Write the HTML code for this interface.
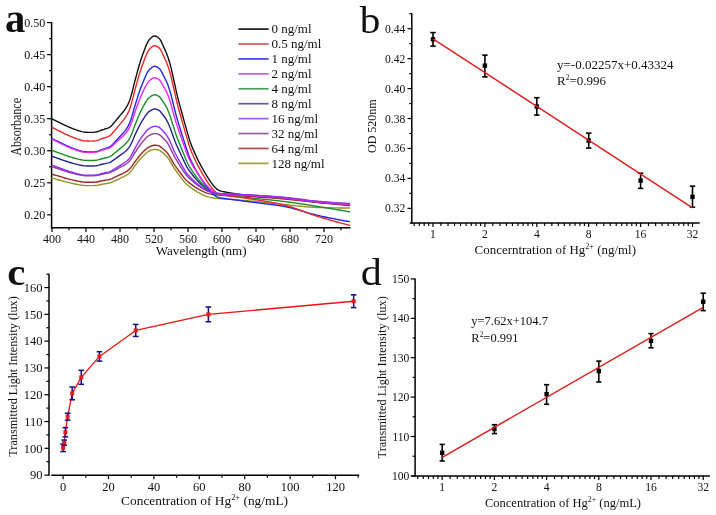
<!DOCTYPE html>
<html><head><meta charset="utf-8"><style>
html,body{margin:0;padding:0;background:#fff;}
svg{display:block;will-change:transform;filter:blur(0.35px);}
text{font-family:"Liberation Serif", serif;fill:#111;}
</style></head><body>
<svg width="716" height="515" viewBox="0 0 716 515">
<rect width="716" height="515" fill="#fff"/>
<line x1="51.60" y1="22.20" x2="51.60" y2="228.55" stroke="#000" stroke-width="1.5"/>
<line x1="50.85" y1="227.80" x2="350.50" y2="227.80" stroke="#000" stroke-width="1.5"/>
<line x1="47.10" y1="214.84" x2="51.60" y2="214.84" stroke="#000" stroke-width="1.2"/>
<text x="45.20" y="218.94" font-size="12" text-anchor="end" >0.20</text>
<line x1="47.10" y1="182.80" x2="51.60" y2="182.80" stroke="#000" stroke-width="1.2"/>
<text x="45.20" y="186.90" font-size="12" text-anchor="end" >0.25</text>
<line x1="47.10" y1="150.76" x2="51.60" y2="150.76" stroke="#000" stroke-width="1.2"/>
<text x="45.20" y="154.86" font-size="12" text-anchor="end" >0.30</text>
<line x1="47.10" y1="118.72" x2="51.60" y2="118.72" stroke="#000" stroke-width="1.2"/>
<text x="45.20" y="122.82" font-size="12" text-anchor="end" >0.35</text>
<line x1="47.10" y1="86.68" x2="51.60" y2="86.68" stroke="#000" stroke-width="1.2"/>
<text x="45.20" y="90.78" font-size="12" text-anchor="end" >0.40</text>
<line x1="47.10" y1="54.64" x2="51.60" y2="54.64" stroke="#000" stroke-width="1.2"/>
<text x="45.20" y="58.74" font-size="12" text-anchor="end" >0.45</text>
<line x1="47.10" y1="22.60" x2="51.60" y2="22.60" stroke="#000" stroke-width="1.2"/>
<text x="45.20" y="26.70" font-size="12" text-anchor="end" >0.50</text>
<line x1="49.10" y1="198.82" x2="51.60" y2="198.82" stroke="#000" stroke-width="1.2"/>
<line x1="49.10" y1="166.78" x2="51.60" y2="166.78" stroke="#000" stroke-width="1.2"/>
<line x1="49.10" y1="134.74" x2="51.60" y2="134.74" stroke="#000" stroke-width="1.2"/>
<line x1="49.10" y1="102.70" x2="51.60" y2="102.70" stroke="#000" stroke-width="1.2"/>
<line x1="49.10" y1="70.66" x2="51.60" y2="70.66" stroke="#000" stroke-width="1.2"/>
<line x1="49.10" y1="38.62" x2="51.60" y2="38.62" stroke="#000" stroke-width="1.2"/>
<line x1="52.00" y1="227.80" x2="52.00" y2="232.00" stroke="#000" stroke-width="1.2"/>
<text x="52.00" y="242.70" font-size="12" text-anchor="middle" >400</text>
<line x1="69.00" y1="227.80" x2="69.00" y2="230.30" stroke="#000" stroke-width="1.2"/>
<line x1="86.00" y1="227.80" x2="86.00" y2="232.00" stroke="#000" stroke-width="1.2"/>
<text x="86.00" y="242.70" font-size="12" text-anchor="middle" >440</text>
<line x1="103.00" y1="227.80" x2="103.00" y2="230.30" stroke="#000" stroke-width="1.2"/>
<line x1="120.00" y1="227.80" x2="120.00" y2="232.00" stroke="#000" stroke-width="1.2"/>
<text x="120.00" y="242.70" font-size="12" text-anchor="middle" >480</text>
<line x1="137.00" y1="227.80" x2="137.00" y2="230.30" stroke="#000" stroke-width="1.2"/>
<line x1="154.00" y1="227.80" x2="154.00" y2="232.00" stroke="#000" stroke-width="1.2"/>
<text x="154.00" y="242.70" font-size="12" text-anchor="middle" >520</text>
<line x1="171.00" y1="227.80" x2="171.00" y2="230.30" stroke="#000" stroke-width="1.2"/>
<line x1="188.00" y1="227.80" x2="188.00" y2="232.00" stroke="#000" stroke-width="1.2"/>
<text x="188.00" y="242.70" font-size="12" text-anchor="middle" >560</text>
<line x1="205.00" y1="227.80" x2="205.00" y2="230.30" stroke="#000" stroke-width="1.2"/>
<line x1="222.00" y1="227.80" x2="222.00" y2="232.00" stroke="#000" stroke-width="1.2"/>
<text x="222.00" y="242.70" font-size="12" text-anchor="middle" >600</text>
<line x1="239.00" y1="227.80" x2="239.00" y2="230.30" stroke="#000" stroke-width="1.2"/>
<line x1="256.00" y1="227.80" x2="256.00" y2="232.00" stroke="#000" stroke-width="1.2"/>
<text x="256.00" y="242.70" font-size="12" text-anchor="middle" >640</text>
<line x1="273.00" y1="227.80" x2="273.00" y2="230.30" stroke="#000" stroke-width="1.2"/>
<line x1="290.00" y1="227.80" x2="290.00" y2="232.00" stroke="#000" stroke-width="1.2"/>
<text x="290.00" y="242.70" font-size="12" text-anchor="middle" >680</text>
<line x1="307.00" y1="227.80" x2="307.00" y2="230.30" stroke="#000" stroke-width="1.2"/>
<line x1="324.00" y1="227.80" x2="324.00" y2="232.00" stroke="#000" stroke-width="1.2"/>
<text x="324.00" y="242.70" font-size="12" text-anchor="middle" >720</text>
<line x1="341.00" y1="227.80" x2="341.00" y2="230.30" stroke="#000" stroke-width="1.2"/>
<text x="201.20" y="255.00" font-size="13.1" text-anchor="middle" >Wavelength (nm)</text>
<text transform="translate(20.8,126.8) rotate(-90) scale(1,1.12)" font-size="12.1" text-anchor="middle">Absorbance</text>
<text x="5.00" y="31.60" font-size="39.5" text-anchor="start" font-weight="bold" transform="translate(5 0) scale(1.03 1) translate(-5 0)">a</text>
<line x1="238.40" y1="29.10" x2="268.60" y2="29.10" stroke="#1a1a1a" stroke-width="1.7"/>
<text x="271.50" y="33.30" font-size="13.0" text-anchor="start" >0 ng/ml</text>
<line x1="238.40" y1="44.02" x2="268.60" y2="44.02" stroke="#d45a5a" stroke-width="1.7"/>
<text x="271.50" y="48.22" font-size="13.0" text-anchor="start" >0.5 ng/ml</text>
<line x1="238.40" y1="58.94" x2="268.60" y2="58.94" stroke="#4040dc" stroke-width="1.7"/>
<text x="271.50" y="63.14" font-size="13.0" text-anchor="start" >1 ng/ml</text>
<line x1="238.40" y1="73.86" x2="268.60" y2="73.86" stroke="#cc5ccc" stroke-width="1.7"/>
<text x="271.50" y="78.06" font-size="13.0" text-anchor="start" >2 ng/ml</text>
<line x1="238.40" y1="88.78" x2="268.60" y2="88.78" stroke="#4a9e5a" stroke-width="1.7"/>
<text x="271.50" y="92.98" font-size="13.0" text-anchor="start" >4 ng/ml</text>
<line x1="238.40" y1="103.70" x2="268.60" y2="103.70" stroke="#5c5c96" stroke-width="1.7"/>
<text x="271.50" y="107.90" font-size="13.0" text-anchor="start" >8 ng/ml</text>
<line x1="238.40" y1="118.62" x2="268.60" y2="118.62" stroke="#a458ee" stroke-width="1.7"/>
<text x="271.50" y="122.82" font-size="13.0" text-anchor="start" >16 ng/ml</text>
<line x1="238.40" y1="133.54" x2="268.60" y2="133.54" stroke="#9c5aa2" stroke-width="1.7"/>
<text x="271.50" y="137.74" font-size="13.0" text-anchor="start" >32 ng/ml</text>
<line x1="238.40" y1="148.46" x2="268.60" y2="148.46" stroke="#b04848" stroke-width="1.7"/>
<text x="271.50" y="152.66" font-size="13.0" text-anchor="start" >64 ng/ml</text>
<line x1="238.40" y1="163.38" x2="268.60" y2="163.38" stroke="#a0a040" stroke-width="1.7"/>
<text x="271.50" y="167.58" font-size="13.0" text-anchor="start" >128 ng/ml</text>
<polyline points="52.00,118.90 53.00,119.38 54.00,119.86 55.00,120.34 56.00,120.83 57.00,121.31 58.00,121.80 59.00,122.29 60.00,122.79 61.00,123.30 62.00,123.80 63.00,124.30 64.00,124.79 65.00,125.27 66.00,125.73 67.00,126.18 68.00,126.63 69.00,127.06 70.00,127.49 71.00,127.90 72.00,128.30 73.00,128.69 74.00,129.08 75.00,129.46 76.00,129.83 77.00,130.18 78.00,130.50 79.00,130.80 80.00,131.09 81.00,131.39 82.00,131.67 83.00,131.92 84.00,132.10 85.00,132.20 86.00,132.25 87.00,132.29 88.00,132.33 89.00,132.36 90.00,132.38 91.00,132.40 92.00,132.40 93.00,132.37 94.00,132.28 95.00,132.14 96.00,131.98 97.00,131.80 98.00,131.53 99.00,131.13 100.00,130.70 101.00,130.30 102.00,129.97 103.00,129.65 104.00,129.34 105.00,129.00 106.00,128.68 107.00,128.37 108.00,128.02 109.00,127.61 110.00,127.07 111.00,126.25 112.00,125.19 113.00,124.00 114.00,122.78 115.00,121.63 116.00,120.46 117.00,119.26 118.00,118.03 119.00,116.80 120.00,115.58 121.00,114.41 122.00,113.23 123.00,112.03 124.00,110.74 125.00,109.33 126.00,107.79 127.00,106.12 128.00,104.24 129.00,102.07 130.00,99.39 131.00,96.14 132.00,92.61 133.00,88.66 134.00,84.44 135.00,80.56 136.00,76.82 137.00,73.12 138.00,69.51 139.00,66.01 140.00,62.67 141.00,59.51 142.00,56.58 143.00,53.84 144.00,51.09 145.00,48.40 146.00,45.86 147.00,43.56 148.00,41.59 149.00,40.04 150.00,38.94 151.00,37.93 152.00,37.05 153.00,36.36 154.00,35.96 155.00,35.93 156.00,36.23 157.00,36.77 158.00,37.49 159.00,38.32 160.00,39.38 161.00,41.06 162.00,43.16 163.00,45.45 164.00,47.69 165.00,49.84 166.00,52.09 167.00,54.54 168.00,57.31 169.00,60.46 170.00,63.93 171.00,67.66 172.00,71.81 173.00,76.35 174.00,80.91 175.00,85.48 176.00,90.09 177.00,94.54 178.00,98.62 179.00,102.44 180.00,106.11 181.00,109.71 182.00,113.35 183.00,116.99 184.00,120.59 185.00,124.16 186.00,127.65 187.00,131.15 188.00,134.66 189.00,138.08 190.00,141.25 191.00,144.10 192.00,146.68 193.00,149.09 194.00,151.39 195.00,153.62 196.00,155.79 197.00,157.91 198.00,159.96 199.00,161.96 200.00,163.90 201.00,165.82 202.00,167.69 203.00,169.52 204.00,171.29 205.00,173.01 206.00,174.68 207.00,176.30 208.00,177.88 209.00,179.40 210.00,180.87 211.00,182.30 212.00,183.66 213.00,184.96 214.00,186.18 215.00,187.29 216.00,188.27 217.00,189.12 218.00,189.81 219.00,190.35 220.00,190.78 221.00,191.11 222.00,191.38 223.00,191.60 224.00,191.80 225.00,191.99 226.00,192.17 227.00,192.35 228.00,192.52 229.00,192.70 230.00,192.87 231.00,193.03 232.00,193.20 233.00,193.36 234.00,193.52 235.00,193.68 236.00,193.84 237.00,193.99 238.00,194.14 239.00,194.29 240.00,194.43 241.00,194.57 242.00,194.71 243.00,194.84 244.00,194.98 245.00,195.10 246.00,195.23 247.00,195.35 248.00,195.47 249.00,195.58 250.00,195.69 251.00,195.80 252.00,195.90 253.00,196.00 254.00,196.09 255.00,196.18 256.00,196.27 257.00,196.36 258.00,196.44 259.00,196.52 260.00,196.60 261.00,196.68 262.00,196.75 263.00,196.83 264.00,196.90 265.00,196.97 266.00,197.04 267.00,197.11 268.00,197.18 269.00,197.24 270.00,197.31 271.00,197.38 272.00,197.45 273.00,197.52 274.00,197.59 275.00,197.66 276.00,197.74 277.00,197.81 278.00,197.89 279.00,197.97 280.00,198.05 281.00,198.13 282.00,198.22 283.00,198.31 284.00,198.40 285.00,198.50 286.00,198.60 287.00,198.70 288.00,198.81 289.00,198.92 290.00,199.03 291.00,199.15 292.00,199.26 293.00,199.38 294.00,199.51 295.00,199.63 296.00,199.75 297.00,199.88 298.00,200.01 299.00,200.13 300.00,200.26 301.00,200.39 302.00,200.52 303.00,200.65 304.00,200.77 305.00,200.90 306.00,201.03 307.00,201.15 308.00,201.28 309.00,201.40 310.00,201.52 311.00,201.64 312.00,201.76 313.00,201.87 314.00,201.98 315.00,202.09 316.00,202.20 317.00,202.30 318.00,202.40 319.00,202.50 320.00,202.59 321.00,202.69 322.00,202.78 323.00,202.87 324.00,202.97 325.00,203.06 326.00,203.15 327.00,203.24 328.00,203.33 329.00,203.42 330.00,203.50 331.00,203.59 332.00,203.67 333.00,203.76 334.00,203.84 335.00,203.92 336.00,204.01 337.00,204.09 338.00,204.17 339.00,204.24 340.00,204.32 341.00,204.40 342.00,204.47 343.00,204.55 344.00,204.62 345.00,204.69 346.00,204.76 347.00,204.83 348.00,204.90 349.00,204.97 349.50,205.00" fill="none" stroke="#111111" stroke-width="1.4" stroke-linejoin="round" stroke-linecap="round"/>
<polyline points="52.00,156.30 53.00,156.65 54.00,156.99 55.00,157.34 56.00,157.69 57.00,158.04 58.00,158.39 59.00,158.74 60.00,159.10 61.00,159.47 62.00,159.83 63.00,160.19 64.00,160.54 65.00,160.88 66.00,161.22 67.00,161.54 68.00,161.86 69.00,162.18 70.00,162.48 71.00,162.78 72.00,163.07 73.00,163.35 74.00,163.63 75.00,163.90 76.00,164.17 77.00,164.42 78.00,164.65 79.00,164.87 80.00,165.08 81.00,165.29 82.00,165.50 83.00,165.67 84.00,165.80 85.00,165.88 86.00,165.91 87.00,165.94 88.00,165.97 89.00,165.99 90.00,166.01 91.00,166.02 92.00,166.02 93.00,166.00 94.00,165.93 95.00,165.84 96.00,165.72 97.00,165.59 98.00,165.39 99.00,165.11 100.00,164.79 101.00,164.51 102.00,164.27 103.00,164.04 104.00,163.81 105.00,163.57 106.00,163.35 107.00,163.14 108.00,162.90 109.00,162.63 110.00,162.29 111.00,161.79 112.00,161.15 113.00,160.43 114.00,159.71 115.00,159.02 116.00,158.32 117.00,157.60 118.00,156.86 119.00,156.13 120.00,155.40 121.00,154.70 122.00,154.00 123.00,153.27 124.00,152.51 125.00,151.67 126.00,150.76 127.00,149.78 128.00,148.68 129.00,147.41 130.00,145.86 131.00,143.98 132.00,141.94 133.00,139.68 134.00,137.25 135.00,135.02 136.00,132.86 137.00,130.73 138.00,128.65 139.00,126.63 140.00,124.71 141.00,122.88 142.00,121.18 143.00,119.59 144.00,118.00 145.00,116.44 146.00,114.97 147.00,113.63 148.00,112.47 149.00,111.56 150.00,110.90 151.00,110.29 152.00,109.75 153.00,109.32 154.00,109.06 155.00,108.99 156.00,109.12 157.00,109.41 158.00,109.82 159.00,110.29 160.00,111.10 161.00,112.27 162.00,113.62 163.00,114.96 164.00,116.24 165.00,117.58 166.00,119.08 167.00,120.82 168.00,122.81 169.00,125.01 170.00,127.42 171.00,130.15 172.00,132.95 173.00,135.74 174.00,138.56 175.00,141.24 176.00,143.67 177.00,145.95 178.00,148.15 179.00,150.35 180.00,152.56 181.00,154.76 182.00,156.92 183.00,159.04 184.00,161.16 185.00,163.29 186.00,165.32 187.00,167.16 188.00,168.78 189.00,170.25 190.00,171.62 191.00,172.94 192.00,174.24 193.00,175.49 194.00,176.71 195.00,177.88 196.00,179.02 197.00,180.11 198.00,181.17 199.00,182.19 200.00,183.17 201.00,184.15 202.00,185.09 203.00,186.00 204.00,186.87 205.00,187.71 206.00,188.51 207.00,189.27 208.00,189.99 209.00,190.66 210.00,191.27 211.00,191.80 212.00,192.27 213.00,192.67 214.00,193.01 215.00,193.29 216.00,193.52 217.00,193.70 218.00,193.84 219.00,193.95 220.00,194.03 221.00,194.10 222.00,194.15 223.00,194.19 224.00,194.23 225.00,194.26 226.00,194.30 227.00,194.34 228.00,194.38 229.00,194.42 230.00,194.46 231.00,194.50 232.00,194.55 233.00,194.59 234.00,194.64 235.00,194.68 236.00,194.73 237.00,194.77 238.00,194.82 239.00,194.87 240.00,194.92 241.00,194.97 242.00,195.02 243.00,195.07 244.00,195.12 245.00,195.17 246.00,195.23 247.00,195.28 248.00,195.34 249.00,195.39 250.00,195.45 251.00,195.50 252.00,195.56 253.00,195.62 254.00,195.68 255.00,195.74 256.00,195.80 257.00,195.86 258.00,195.93 259.00,195.99 260.00,196.06 261.00,196.13 262.00,196.20 263.00,196.27 264.00,196.34 265.00,196.41 266.00,196.49 267.00,196.56 268.00,196.64 269.00,196.72 270.00,196.80 271.00,196.88 272.00,196.96 273.00,197.04 274.00,197.12 275.00,197.21 276.00,197.29 277.00,197.38 278.00,197.46 279.00,197.55 280.00,197.64 281.00,197.73 282.00,197.82 283.00,197.91 284.00,198.00 285.00,198.10 286.00,198.20 287.00,198.30 288.00,198.40 289.00,198.51 290.00,198.63 291.00,198.74 292.00,198.86 293.00,198.98 294.00,199.10 295.00,199.22 296.00,199.35 297.00,199.47 298.00,199.60 299.00,199.73 300.00,199.86 301.00,199.99 302.00,200.12 303.00,200.25 304.00,200.38 305.00,200.51 306.00,200.63 307.00,200.76 308.00,200.88 309.00,201.01 310.00,201.13 311.00,201.25 312.00,201.36 313.00,201.48 314.00,201.59 315.00,201.69 316.00,201.80 317.00,201.90 318.00,202.00 319.00,202.09 320.00,202.19 321.00,202.28 322.00,202.37 323.00,202.46 324.00,202.55 325.00,202.64 326.00,202.73 327.00,202.82 328.00,202.90 329.00,202.99 330.00,203.07 331.00,203.16 332.00,203.24 333.00,203.32 334.00,203.40 335.00,203.48 336.00,203.56 337.00,203.64 338.00,203.71 339.00,203.79 340.00,203.86 341.00,203.93 342.00,204.00 343.00,204.07 344.00,204.14 345.00,204.21 346.00,204.28 347.00,204.34 348.00,204.41 349.00,204.47 349.50,204.50" fill="none" stroke="#222288" stroke-width="1.4" stroke-linejoin="round" stroke-linecap="round"/>
<polyline points="52.00,174.20 53.00,174.49 54.00,174.78 55.00,175.07 56.00,175.36 57.00,175.65 58.00,175.94 59.00,176.24 60.00,176.54 61.00,176.84 62.00,177.14 63.00,177.44 64.00,177.73 65.00,178.02 66.00,178.30 67.00,178.57 68.00,178.84 69.00,179.10 70.00,179.35 71.00,179.60 72.00,179.84 73.00,180.07 74.00,180.31 75.00,180.54 76.00,180.76 77.00,180.97 78.00,181.16 79.00,181.34 80.00,181.51 81.00,181.69 82.00,181.86 83.00,182.01 84.00,182.12 85.00,182.18 86.00,182.21 87.00,182.24 88.00,182.26 89.00,182.28 90.00,182.29 91.00,182.30 92.00,182.30 93.00,182.28 94.00,182.23 95.00,182.15 96.00,182.05 97.00,181.94 98.00,181.78 99.00,181.54 100.00,181.28 101.00,181.04 102.00,180.84 103.00,180.65 104.00,180.46 105.00,180.26 106.00,180.09 107.00,179.92 108.00,179.75 109.00,179.55 110.00,179.30 111.00,178.96 112.00,178.54 113.00,178.07 114.00,177.59 115.00,177.13 116.00,176.67 117.00,176.19 118.00,175.71 119.00,175.23 120.00,174.75 121.00,174.29 122.00,173.82 123.00,173.35 124.00,172.84 125.00,172.30 126.00,171.71 127.00,171.07 128.00,170.36 129.00,169.56 130.00,168.57 131.00,167.39 132.00,166.11 133.00,164.69 134.00,163.17 135.00,161.77 136.00,160.42 137.00,159.09 138.00,157.78 139.00,156.51 140.00,155.30 141.00,154.15 142.00,153.08 143.00,152.07 144.00,151.07 145.00,150.08 146.00,149.14 147.00,148.29 148.00,147.55 149.00,146.96 150.00,146.52 151.00,146.11 152.00,145.75 153.00,145.45 154.00,145.26 155.00,145.18 156.00,145.22 157.00,145.38 158.00,145.60 159.00,145.89 160.00,146.43 161.00,147.18 162.00,148.01 163.00,148.81 164.00,149.60 165.00,150.46 166.00,151.46 167.00,152.63 168.00,153.96 169.00,155.41 170.00,157.08 171.00,158.83 172.00,160.57 173.00,162.34 174.00,164.03 175.00,165.55 176.00,166.96 177.00,168.33 178.00,169.70 179.00,171.08 180.00,172.44 181.00,173.78 182.00,175.09 183.00,176.42 184.00,177.72 185.00,178.92 186.00,179.98 187.00,180.92 188.00,181.77 189.00,182.59 190.00,183.38 191.00,184.15 192.00,184.90 193.00,185.62 194.00,186.30 195.00,186.96 196.00,187.60 197.00,188.21 198.00,188.80 199.00,189.37 200.00,189.90 201.00,190.44 202.00,190.95 203.00,191.43 204.00,191.89 205.00,192.32 206.00,192.72 207.00,193.08 208.00,193.40 209.00,193.68 210.00,193.92 211.00,194.12 212.00,194.29 213.00,194.44 214.00,194.57 215.00,194.69 216.00,194.79 217.00,194.88 218.00,194.95 219.00,195.02 220.00,195.07 221.00,195.11 222.00,195.15 223.00,195.19 224.00,195.23 225.00,195.27 226.00,195.30 227.00,195.34 228.00,195.38 229.00,195.42 230.00,195.46 231.00,195.50 232.00,195.55 233.00,195.59 234.00,195.64 235.00,195.68 236.00,195.73 237.00,195.77 238.00,195.82 239.00,195.87 240.00,195.92 241.00,195.97 242.00,196.02 243.00,196.07 244.00,196.12 245.00,196.17 246.00,196.23 247.00,196.28 248.00,196.34 249.00,196.39 250.00,196.45 251.00,196.50 252.00,196.56 253.00,196.62 254.00,196.68 255.00,196.74 256.00,196.80 257.00,196.87 258.00,196.93 259.00,197.00 260.00,197.07 261.00,197.14 262.00,197.21 263.00,197.28 264.00,197.36 265.00,197.43 266.00,197.51 267.00,197.58 268.00,197.66 269.00,197.74 270.00,197.82 271.00,197.90 272.00,197.98 273.00,198.06 274.00,198.15 275.00,198.23 276.00,198.31 277.00,198.40 278.00,198.48 279.00,198.57 280.00,198.65 281.00,198.74 282.00,198.83 283.00,198.91 284.00,199.00 285.00,199.09 286.00,199.18 287.00,199.27 288.00,199.37 289.00,199.46 290.00,199.56 291.00,199.66 292.00,199.76 293.00,199.86 294.00,199.96 295.00,200.06 296.00,200.17 297.00,200.27 298.00,200.38 299.00,200.49 300.00,200.59 301.00,200.70 302.00,200.81 303.00,200.92 304.00,201.03 305.00,201.13 306.00,201.24 307.00,201.35 308.00,201.46 309.00,201.57 310.00,201.67 311.00,201.78 312.00,201.88 313.00,201.99 314.00,202.09 315.00,202.20 316.00,202.30 317.00,202.40 318.00,202.50 319.00,202.60 320.00,202.70 321.00,202.80 322.00,202.89 323.00,202.99 324.00,203.09 325.00,203.19 326.00,203.28 327.00,203.38 328.00,203.48 329.00,203.57 330.00,203.67 331.00,203.77 332.00,203.86 333.00,203.96 334.00,204.05 335.00,204.15 336.00,204.24 337.00,204.34 338.00,204.43 339.00,204.53 340.00,204.62 341.00,204.71 342.00,204.81 343.00,204.90 344.00,204.99 345.00,205.09 346.00,205.18 347.00,205.27 348.00,205.36 349.00,205.45 349.50,205.50" fill="none" stroke="#982828" stroke-width="1.4" stroke-linejoin="round" stroke-linecap="round"/>
<polyline points="52.00,178.10 53.00,178.37 54.00,178.64 55.00,178.91 56.00,179.18 57.00,179.45 58.00,179.72 59.00,180.00 60.00,180.28 61.00,180.56 62.00,180.85 63.00,181.12 64.00,181.40 65.00,181.67 66.00,181.92 67.00,182.18 68.00,182.43 69.00,182.67 70.00,182.91 71.00,183.14 72.00,183.36 73.00,183.58 74.00,183.80 75.00,184.01 76.00,184.22 77.00,184.42 78.00,184.60 79.00,184.76 80.00,184.93 81.00,185.09 82.00,185.25 83.00,185.39 84.00,185.49 85.00,185.55 86.00,185.58 87.00,185.60 88.00,185.62 89.00,185.64 90.00,185.65 91.00,185.66 92.00,185.66 93.00,185.64 94.00,185.59 95.00,185.52 96.00,185.43 97.00,185.32 98.00,185.17 99.00,184.95 100.00,184.71 101.00,184.48 102.00,184.30 103.00,184.12 104.00,183.94 105.00,183.76 106.00,183.59 107.00,183.43 108.00,183.26 109.00,183.06 110.00,182.83 111.00,182.49 112.00,182.08 113.00,181.62 114.00,181.15 115.00,180.70 116.00,180.25 117.00,179.79 118.00,179.32 119.00,178.84 120.00,178.37 121.00,177.92 122.00,177.47 123.00,177.00 124.00,176.51 125.00,175.98 126.00,175.40 127.00,174.77 128.00,174.08 129.00,173.29 130.00,172.32 131.00,171.16 132.00,169.91 133.00,168.51 134.00,167.02 135.00,165.65 136.00,164.32 137.00,163.01 138.00,161.73 139.00,160.49 140.00,159.30 141.00,158.17 142.00,157.12 143.00,156.13 144.00,155.14 145.00,154.18 146.00,153.26 147.00,152.42 148.00,151.70 149.00,151.12 150.00,150.68 151.00,150.29 152.00,149.93 153.00,149.64 154.00,149.45 155.00,149.38 156.00,149.43 157.00,149.58 158.00,149.80 159.00,150.09 160.00,150.62 161.00,151.37 162.00,152.19 163.00,152.97 164.00,153.75 165.00,154.61 166.00,155.59 167.00,156.75 168.00,158.06 169.00,159.49 170.00,161.14 171.00,162.87 172.00,164.59 173.00,166.33 174.00,167.99 175.00,169.48 176.00,170.88 177.00,172.22 178.00,173.58 179.00,174.93 180.00,176.27 181.00,177.59 182.00,178.88 183.00,180.19 184.00,181.47 185.00,182.66 186.00,183.70 187.00,184.62 188.00,185.46 189.00,186.26 190.00,187.05 191.00,187.81 192.00,188.54 193.00,189.25 194.00,189.93 195.00,190.58 196.00,191.20 197.00,191.81 198.00,192.39 199.00,192.94 200.00,193.48 201.00,194.00 202.00,194.50 203.00,194.98 204.00,195.43 205.00,195.86 206.00,196.25 207.00,196.61 208.00,196.92 209.00,197.19 210.00,197.43 211.00,197.62 212.00,197.79 213.00,197.94 214.00,198.08 215.00,198.20 216.00,198.31 217.00,198.41 218.00,198.50 219.00,198.59 220.00,198.66 221.00,198.73 222.00,198.80 223.00,198.87 224.00,198.93 225.00,199.00 226.00,199.06 227.00,199.13 228.00,199.20 229.00,199.27 230.00,199.34 231.00,199.41 232.00,199.48 233.00,199.55 234.00,199.63 235.00,199.70 236.00,199.78 237.00,199.85 238.00,199.93 239.00,200.01 240.00,200.09 241.00,200.17 242.00,200.25 243.00,200.33 244.00,200.41 245.00,200.49 246.00,200.57 247.00,200.66 248.00,200.74 249.00,200.83 250.00,200.91 251.00,201.00 252.00,201.09 253.00,201.18 254.00,201.28 255.00,201.37 256.00,201.47 257.00,201.57 258.00,201.67 259.00,201.78 260.00,201.88 261.00,201.99 262.00,202.10 263.00,202.21 264.00,202.32 265.00,202.43 266.00,202.54 267.00,202.65 268.00,202.77 269.00,202.88 270.00,202.99 271.00,203.11 272.00,203.22 273.00,203.33 274.00,203.45 275.00,203.56 276.00,203.67 277.00,203.78 278.00,203.88 279.00,203.99 280.00,204.10 281.00,204.20 282.00,204.30 283.00,204.40 284.00,204.50 285.00,204.60 286.00,204.70 287.00,204.80 288.00,204.91 289.00,205.01 290.00,205.12 291.00,205.22 292.00,205.33 293.00,205.44 294.00,205.55 295.00,205.66 296.00,205.77 297.00,205.88 298.00,205.98 299.00,206.09 300.00,206.19 301.00,206.29 302.00,206.39 303.00,206.49 304.00,206.59 305.00,206.68 306.00,206.77 307.00,206.85 308.00,206.94 309.00,207.01 310.00,207.09 311.00,207.16 312.00,207.22 313.00,207.28 314.00,207.34 315.00,207.38 316.00,207.43 317.00,207.46 318.00,207.50 319.00,207.52 320.00,207.55 321.00,207.58 322.00,207.60 323.00,207.63 324.00,207.65 325.00,207.68 326.00,207.70 327.00,207.72 328.00,207.74 329.00,207.76 330.00,207.78 331.00,207.80 332.00,207.82 333.00,207.84 334.00,207.86 335.00,207.87 336.00,207.89 337.00,207.91 338.00,207.92 339.00,207.93 340.00,207.94 341.00,207.95 342.00,207.96 343.00,207.97 344.00,207.98 345.00,207.99 346.00,207.99 347.00,207.99 348.00,208.00 349.00,208.00 349.50,208.00" fill="none" stroke="#949422" stroke-width="1.4" stroke-linejoin="round" stroke-linecap="round"/>
<polyline points="52.00,150.40 53.00,150.76 54.00,151.12 55.00,151.48 56.00,151.85 57.00,152.21 58.00,152.57 59.00,152.95 60.00,153.32 61.00,153.70 62.00,154.08 63.00,154.45 64.00,154.82 65.00,155.18 66.00,155.52 67.00,155.86 68.00,156.20 69.00,156.52 70.00,156.84 71.00,157.15 72.00,157.45 73.00,157.74 74.00,158.03 75.00,158.32 76.00,158.60 77.00,158.86 78.00,159.10 79.00,159.33 80.00,159.54 81.00,159.77 82.00,159.98 83.00,160.16 84.00,160.30 85.00,160.38 86.00,160.41 87.00,160.44 88.00,160.47 89.00,160.49 90.00,160.51 91.00,160.52 92.00,160.53 93.00,160.50 94.00,160.43 95.00,160.33 96.00,160.21 97.00,160.08 98.00,159.87 99.00,159.57 100.00,159.25 101.00,158.95 102.00,158.70 103.00,158.46 104.00,158.23 105.00,157.97 106.00,157.73 107.00,157.49 108.00,157.23 109.00,156.92 110.00,156.54 111.00,155.96 112.00,155.23 113.00,154.41 114.00,153.57 115.00,152.78 116.00,151.97 117.00,151.14 118.00,150.30 119.00,149.45 120.00,148.61 121.00,147.80 122.00,147.00 123.00,146.17 124.00,145.28 125.00,144.32 126.00,143.27 127.00,142.13 128.00,140.85 129.00,139.39 130.00,137.59 131.00,135.40 132.00,133.03 133.00,130.39 134.00,127.57 135.00,124.97 136.00,122.46 137.00,119.99 138.00,117.56 139.00,115.22 140.00,112.98 141.00,110.86 142.00,108.88 143.00,107.04 144.00,105.19 145.00,103.38 146.00,101.67 147.00,100.11 148.00,98.78 149.00,97.72 150.00,96.96 151.00,96.26 152.00,95.64 153.00,95.16 154.00,94.86 155.00,94.80 156.00,94.96 157.00,95.31 158.00,95.79 159.00,96.34 160.00,97.23 161.00,98.54 162.00,100.08 163.00,101.66 164.00,103.14 165.00,104.67 166.00,106.36 167.00,108.28 168.00,110.51 169.00,112.98 170.00,115.65 171.00,118.69 172.00,121.92 173.00,125.11 174.00,128.37 175.00,131.54 176.00,134.47 177.00,137.17 178.00,139.74 179.00,142.26 180.00,144.81 181.00,147.36 182.00,149.87 183.00,152.35 184.00,154.78 185.00,157.24 186.00,159.67 187.00,161.96 188.00,164.02 189.00,165.84 190.00,167.49 191.00,169.06 192.00,170.59 193.00,172.08 194.00,173.53 195.00,174.93 196.00,176.29 197.00,177.60 198.00,178.86 199.00,180.09 200.00,181.27 201.00,182.45 202.00,183.59 203.00,184.68 204.00,185.74 205.00,186.76 206.00,187.75 207.00,188.69 208.00,189.59 209.00,190.45 210.00,191.24 211.00,191.97 212.00,192.62 213.00,193.19 214.00,193.67 215.00,194.07 216.00,194.40 217.00,194.66 218.00,194.87 219.00,195.04 220.00,195.18 221.00,195.29 222.00,195.39 223.00,195.48 224.00,195.57 225.00,195.65 226.00,195.74 227.00,195.82 228.00,195.91 229.00,195.99 230.00,196.08 231.00,196.17 232.00,196.25 233.00,196.34 234.00,196.43 235.00,196.52 236.00,196.61 237.00,196.70 238.00,196.79 239.00,196.88 240.00,196.97 241.00,197.06 242.00,197.15 243.00,197.24 244.00,197.34 245.00,197.43 246.00,197.52 247.00,197.62 248.00,197.71 249.00,197.81 250.00,197.90 251.00,198.00 252.00,198.10 253.00,198.19 254.00,198.29 255.00,198.39 256.00,198.48 257.00,198.58 258.00,198.68 259.00,198.78 260.00,198.88 261.00,198.98 262.00,199.08 263.00,199.18 264.00,199.28 265.00,199.38 266.00,199.49 267.00,199.59 268.00,199.69 269.00,199.80 270.00,199.90 271.00,200.01 272.00,200.12 273.00,200.23 274.00,200.34 275.00,200.45 276.00,200.56 277.00,200.67 278.00,200.79 279.00,200.90 280.00,201.02 281.00,201.14 282.00,201.26 283.00,201.38 284.00,201.50 285.00,201.63 286.00,201.75 287.00,201.88 288.00,202.01 289.00,202.14 290.00,202.28 291.00,202.41 292.00,202.55 293.00,202.69 294.00,202.83 295.00,202.97 296.00,203.12 297.00,203.26 298.00,203.41 299.00,203.56 300.00,203.71 301.00,203.86 302.00,204.01 303.00,204.16 304.00,204.31 305.00,204.47 306.00,204.62 307.00,204.77 308.00,204.93 309.00,205.09 310.00,205.24 311.00,205.40 312.00,205.56 313.00,205.71 314.00,205.87 315.00,206.03 316.00,206.19 317.00,206.34 318.00,206.50 319.00,206.66 320.00,206.82 321.00,206.98 322.00,207.14 323.00,207.30 324.00,207.46 325.00,207.62 326.00,207.78 327.00,207.95 328.00,208.11 329.00,208.27 330.00,208.44 331.00,208.61 332.00,208.77 333.00,208.94 334.00,209.11 335.00,209.28 336.00,209.45 337.00,209.62 338.00,209.79 339.00,209.96 340.00,210.13 341.00,210.31 342.00,210.48 343.00,210.65 344.00,210.83 345.00,211.00 346.00,211.18 347.00,211.36 348.00,211.53 349.00,211.71 349.50,211.80" fill="none" stroke="#1a8c2a" stroke-width="1.4" stroke-linejoin="round" stroke-linecap="round"/>
<polyline points="52.00,138.60 53.00,139.07 54.00,139.55 55.00,140.03 56.00,140.51 57.00,140.99 58.00,141.47 59.00,141.96 60.00,142.46 61.00,142.95 62.00,143.45 63.00,143.95 64.00,144.43 65.00,144.90 66.00,145.36 67.00,145.81 68.00,146.25 69.00,146.68 70.00,147.10 71.00,147.51 72.00,147.91 73.00,148.29 74.00,148.68 75.00,149.06 76.00,149.42 77.00,149.76 78.00,150.09 79.00,150.38 80.00,150.67 81.00,150.96 82.00,151.24 83.00,151.49 84.00,151.67 85.00,151.77 86.00,151.82 87.00,151.86 88.00,151.90 89.00,151.92 90.00,151.95 91.00,151.96 92.00,151.97 93.00,151.93 94.00,151.84 95.00,151.71 96.00,151.55 97.00,151.37 98.00,151.10 99.00,150.71 100.00,150.28 101.00,149.89 102.00,149.56 103.00,149.24 104.00,148.93 105.00,148.60 106.00,148.28 107.00,147.98 108.00,147.64 109.00,147.24 110.00,146.74 111.00,146.00 112.00,145.05 113.00,143.98 114.00,142.89 115.00,141.85 116.00,140.81 117.00,139.73 118.00,138.63 119.00,137.53 120.00,136.44 121.00,135.39 122.00,134.34 123.00,133.26 124.00,132.11 125.00,130.85 126.00,129.49 127.00,128.00 128.00,126.34 129.00,124.43 130.00,122.08 131.00,119.23 132.00,116.14 133.00,112.70 134.00,109.01 135.00,105.62 136.00,102.35 137.00,99.12 138.00,95.96 139.00,92.90 140.00,89.98 141.00,87.21 142.00,84.64 143.00,82.23 144.00,79.82 145.00,77.46 146.00,75.23 147.00,73.21 148.00,71.47 149.00,70.09 150.00,69.10 151.00,68.19 152.00,67.39 153.00,66.76 154.00,66.38 155.00,66.31 156.00,66.52 157.00,66.96 158.00,67.57 159.00,68.27 160.00,69.25 161.00,70.79 162.00,72.67 163.00,74.67 164.00,76.57 165.00,78.46 166.00,80.47 167.00,82.71 168.00,85.28 169.00,88.19 170.00,91.37 171.00,94.81 172.00,98.71 173.00,102.76 174.00,106.75 175.00,110.83 176.00,114.81 177.00,118.49 178.00,121.89 179.00,125.13 180.00,128.29 181.00,131.48 182.00,134.68 183.00,137.86 184.00,140.98 185.00,144.05 186.00,147.12 187.00,150.21 188.00,153.19 189.00,155.96 190.00,158.40 191.00,160.61 192.00,162.67 193.00,164.64 194.00,166.56 195.00,168.43 196.00,170.25 197.00,172.01 198.00,173.72 199.00,175.37 200.00,176.98 201.00,178.57 202.00,180.12 203.00,181.62 204.00,183.07 205.00,184.48 206.00,185.84 207.00,187.16 208.00,188.43 209.00,189.66 210.00,190.84 211.00,191.97 212.00,193.03 213.00,194.01 214.00,194.89 215.00,195.66 216.00,196.30 217.00,196.82 218.00,197.23 219.00,197.54 220.00,197.78 221.00,197.97 222.00,198.13 223.00,198.28 224.00,198.42 225.00,198.55 226.00,198.69 227.00,198.82 228.00,198.95 229.00,199.08 230.00,199.22 231.00,199.35 232.00,199.48 233.00,199.61 234.00,199.75 235.00,199.88 236.00,200.01 237.00,200.14 238.00,200.28 239.00,200.41 240.00,200.54 241.00,200.67 242.00,200.81 243.00,200.94 244.00,201.07 245.00,201.20 246.00,201.34 247.00,201.47 248.00,201.60 249.00,201.73 250.00,201.87 251.00,202.00 252.00,202.13 253.00,202.26 254.00,202.39 255.00,202.51 256.00,202.63 257.00,202.76 258.00,202.88 259.00,203.00 260.00,203.12 261.00,203.24 262.00,203.36 263.00,203.47 264.00,203.59 265.00,203.71 266.00,203.83 267.00,203.96 268.00,204.08 269.00,204.20 270.00,204.33 271.00,204.46 272.00,204.59 273.00,204.72 274.00,204.85 275.00,204.99 276.00,205.13 277.00,205.28 278.00,205.43 279.00,205.58 280.00,205.73 281.00,205.90 282.00,206.06 283.00,206.23 284.00,206.41 285.00,206.60 286.00,206.79 287.00,207.00 288.00,207.22 289.00,207.45 290.00,207.69 291.00,207.94 292.00,208.19 293.00,208.45 294.00,208.73 295.00,209.00 296.00,209.28 297.00,209.57 298.00,209.86 299.00,210.16 300.00,210.45 301.00,210.75 302.00,211.05 303.00,211.36 304.00,211.66 305.00,211.96 306.00,212.26 307.00,212.55 308.00,212.85 309.00,213.14 310.00,213.43 311.00,213.71 312.00,213.99 313.00,214.26 314.00,214.52 315.00,214.77 316.00,215.02 317.00,215.26 318.00,215.49 319.00,215.72 320.00,215.94 321.00,216.16 322.00,216.38 323.00,216.60 324.00,216.81 325.00,217.03 326.00,217.24 327.00,217.45 328.00,217.65 329.00,217.86 330.00,218.06 331.00,218.26 332.00,218.46 333.00,218.66 334.00,218.86 335.00,219.05 336.00,219.24 337.00,219.43 338.00,219.62 339.00,219.80 340.00,219.98 341.00,220.16 342.00,220.34 343.00,220.52 344.00,220.69 345.00,220.86 346.00,221.03 347.00,221.19 348.00,221.36 349.00,221.52 349.50,221.60" fill="none" stroke="#2424ec" stroke-width="1.4" stroke-linejoin="round" stroke-linecap="round"/>
<polyline points="52.00,127.40 53.00,127.89 54.00,128.38 55.00,128.86 56.00,129.36 57.00,129.85 58.00,130.34 59.00,130.84 60.00,131.35 61.00,131.86 62.00,132.38 63.00,132.88 64.00,133.38 65.00,133.86 66.00,134.33 67.00,134.79 68.00,135.24 69.00,135.69 70.00,136.12 71.00,136.54 72.00,136.94 73.00,137.34 74.00,137.73 75.00,138.12 76.00,138.49 77.00,138.85 78.00,139.18 79.00,139.48 80.00,139.77 81.00,140.08 82.00,140.36 83.00,140.61 84.00,140.80 85.00,140.90 86.00,140.95 87.00,140.99 88.00,141.03 89.00,141.06 90.00,141.08 91.00,141.10 92.00,141.10 93.00,141.07 94.00,140.98 95.00,140.84 96.00,140.68 97.00,140.49 98.00,140.22 99.00,139.81 100.00,139.37 101.00,138.97 102.00,138.63 103.00,138.31 104.00,137.99 105.00,137.65 106.00,137.31 107.00,136.98 108.00,136.62 109.00,136.18 110.00,135.64 111.00,134.81 112.00,133.75 113.00,132.56 114.00,131.35 115.00,130.20 116.00,129.03 117.00,127.83 118.00,126.61 119.00,125.38 120.00,124.17 121.00,123.00 122.00,121.83 123.00,120.62 124.00,119.34 125.00,117.95 126.00,116.42 127.00,114.76 128.00,112.90 129.00,110.76 130.00,108.13 131.00,104.93 132.00,101.46 133.00,97.59 134.00,93.45 135.00,89.64 136.00,85.97 137.00,82.34 138.00,78.80 139.00,75.36 140.00,72.08 141.00,68.98 142.00,66.09 143.00,63.39 144.00,60.69 145.00,58.04 146.00,55.54 147.00,53.27 148.00,51.32 149.00,49.79 150.00,48.68 151.00,47.68 152.00,46.79 153.00,46.09 154.00,45.68 155.00,45.62 156.00,45.88 157.00,46.38 158.00,47.06 159.00,47.85 160.00,48.87 161.00,50.51 162.00,52.55 163.00,54.77 164.00,56.92 165.00,59.00 166.00,61.19 167.00,63.58 168.00,66.29 169.00,69.38 170.00,72.79 171.00,76.44 172.00,80.54 173.00,84.98 174.00,89.40 175.00,93.87 176.00,98.35 177.00,102.64 178.00,106.56 179.00,110.25 180.00,113.79 181.00,117.30 182.00,120.84 183.00,124.37 184.00,127.87 185.00,131.32 186.00,134.70 187.00,138.11 188.00,141.52 189.00,144.81 190.00,147.82 191.00,150.51 192.00,152.96 193.00,155.26 194.00,157.46 195.00,159.60 196.00,161.69 197.00,163.71 198.00,165.68 199.00,167.59 200.00,169.45 201.00,171.29 202.00,173.08 203.00,174.82 204.00,176.51 205.00,178.15 206.00,179.74 207.00,181.29 208.00,182.78 209.00,184.23 210.00,185.62 211.00,186.97 212.00,188.26 213.00,189.47 214.00,190.60 215.00,191.62 216.00,192.50 217.00,193.23 218.00,193.82 219.00,194.26 220.00,194.58 221.00,194.82 222.00,195.01 223.00,195.16 224.00,195.29 225.00,195.41 226.00,195.54 227.00,195.66 228.00,195.79 229.00,195.91 230.00,196.04 231.00,196.17 232.00,196.30 233.00,196.43 234.00,196.56 235.00,196.69 236.00,196.83 237.00,196.96 238.00,197.10 239.00,197.24 240.00,197.38 241.00,197.52 242.00,197.67 243.00,197.81 244.00,197.95 245.00,198.10 246.00,198.25 247.00,198.40 248.00,198.55 249.00,198.70 250.00,198.85 251.00,199.00 252.00,199.15 253.00,199.31 254.00,199.46 255.00,199.62 256.00,199.77 257.00,199.93 258.00,200.09 259.00,200.25 260.00,200.41 261.00,200.57 262.00,200.73 263.00,200.89 264.00,201.06 265.00,201.23 266.00,201.40 267.00,201.57 268.00,201.75 269.00,201.93 270.00,202.11 271.00,202.29 272.00,202.48 273.00,202.67 274.00,202.86 275.00,203.06 276.00,203.26 277.00,203.46 278.00,203.67 279.00,203.88 280.00,204.10 281.00,204.32 282.00,204.54 283.00,204.77 284.00,205.01 285.00,205.26 286.00,205.51 287.00,205.78 288.00,206.06 289.00,206.35 290.00,206.65 291.00,206.96 292.00,207.28 293.00,207.61 294.00,207.95 295.00,208.29 296.00,208.64 297.00,209.00 298.00,209.36 299.00,209.72 300.00,210.09 301.00,210.46 302.00,210.83 303.00,211.20 304.00,211.58 305.00,211.95 306.00,212.32 307.00,212.70 308.00,213.06 309.00,213.43 310.00,213.79 311.00,214.15 312.00,214.51 313.00,214.86 314.00,215.20 315.00,215.53 316.00,215.86 317.00,216.18 318.00,216.49 319.00,216.80 320.00,217.11 321.00,217.41 322.00,217.71 323.00,218.01 324.00,218.30 325.00,218.60 326.00,218.89 327.00,219.19 328.00,219.48 329.00,219.76 330.00,220.05 331.00,220.34 332.00,220.62 333.00,220.90 334.00,221.18 335.00,221.46 336.00,221.74 337.00,222.01 338.00,222.29 339.00,222.56 340.00,222.83 341.00,223.10 342.00,223.36 343.00,223.63 344.00,223.89 345.00,224.15 346.00,224.41 347.00,224.66 348.00,224.92 349.00,225.17 349.50,225.30" fill="none" stroke="#e82828" stroke-width="1.4" stroke-linejoin="round" stroke-linecap="round"/>
<polyline points="52.00,166.80 53.00,167.12 54.00,167.44 55.00,167.77 56.00,168.09 57.00,168.42 58.00,168.74 59.00,169.07 60.00,169.41 61.00,169.75 62.00,170.08 63.00,170.42 64.00,170.75 65.00,171.07 66.00,171.38 67.00,171.68 68.00,171.98 69.00,172.27 70.00,172.55 71.00,172.83 72.00,173.10 73.00,173.36 74.00,173.62 75.00,173.88 76.00,174.12 77.00,174.36 78.00,174.57 79.00,174.77 80.00,174.97 81.00,175.17 82.00,175.36 83.00,175.52 84.00,175.64 85.00,175.71 86.00,175.74 87.00,175.77 88.00,175.80 89.00,175.82 90.00,175.83 91.00,175.84 92.00,175.84 93.00,175.82 94.00,175.76 95.00,175.67 96.00,175.56 97.00,175.44 98.00,175.26 99.00,175.00 100.00,174.70 101.00,174.44 102.00,174.21 103.00,174.00 104.00,173.79 105.00,173.57 106.00,173.39 107.00,173.22 108.00,173.04 109.00,172.82 110.00,172.56 111.00,172.18 112.00,171.71 113.00,171.18 114.00,170.64 115.00,170.13 116.00,169.61 117.00,169.08 118.00,168.54 119.00,167.99 120.00,167.46 121.00,166.93 122.00,166.41 123.00,165.88 124.00,165.31 125.00,164.70 126.00,164.03 127.00,163.31 128.00,162.50 129.00,161.57 130.00,160.45 131.00,159.08 132.00,157.60 133.00,155.96 134.00,154.20 135.00,152.59 136.00,151.02 137.00,149.48 138.00,147.97 139.00,146.51 140.00,145.11 141.00,143.78 142.00,142.55 143.00,141.39 144.00,140.23 145.00,139.10 146.00,138.02 147.00,137.05 148.00,136.20 149.00,135.53 150.00,135.04 151.00,134.59 152.00,134.18 153.00,133.86 154.00,133.65 155.00,133.59 156.00,133.66 157.00,133.86 158.00,134.15 159.00,134.49 160.00,135.13 161.00,136.01 162.00,137.00 163.00,137.95 164.00,138.88 165.00,139.90 166.00,141.05 167.00,142.40 168.00,143.94 169.00,145.61 170.00,147.52 171.00,149.58 172.00,151.62 173.00,153.69 174.00,155.71 175.00,157.54 176.00,159.23 177.00,160.85 178.00,162.45 179.00,164.07 180.00,165.68 181.00,167.27 182.00,168.82 183.00,170.38 184.00,171.93 185.00,173.40 186.00,174.73 187.00,175.89 188.00,176.94 189.00,177.92 190.00,178.88 191.00,179.81 192.00,180.71 193.00,181.58 194.00,182.42 195.00,183.23 196.00,184.00 197.00,184.75 198.00,185.47 199.00,186.17 200.00,186.83 201.00,187.49 202.00,188.12 203.00,188.73 204.00,189.31 205.00,189.86 206.00,190.37 207.00,190.84 208.00,191.27 209.00,191.66 210.00,191.99 211.00,192.27 212.00,192.52 213.00,192.73 214.00,192.91 215.00,193.07 216.00,193.21 217.00,193.33 218.00,193.43 219.00,193.52 220.00,193.59 221.00,193.65 222.00,193.70 223.00,193.74 224.00,193.79 225.00,193.84 226.00,193.88 227.00,193.93 228.00,193.97 229.00,194.02 230.00,194.07 231.00,194.12 232.00,194.16 233.00,194.21 234.00,194.26 235.00,194.31 236.00,194.37 237.00,194.42 238.00,194.47 239.00,194.52 240.00,194.58 241.00,194.63 242.00,194.69 243.00,194.74 244.00,194.80 245.00,194.85 246.00,194.91 247.00,194.97 248.00,195.02 249.00,195.08 250.00,195.14 251.00,195.20 252.00,195.26 253.00,195.32 254.00,195.38 255.00,195.44 256.00,195.51 257.00,195.57 258.00,195.63 259.00,195.70 260.00,195.76 261.00,195.83 262.00,195.89 263.00,195.96 264.00,196.03 265.00,196.10 266.00,196.17 267.00,196.24 268.00,196.31 269.00,196.38 270.00,196.46 271.00,196.53 272.00,196.61 273.00,196.68 274.00,196.76 275.00,196.84 276.00,196.92 277.00,197.00 278.00,197.08 279.00,197.17 280.00,197.25 281.00,197.34 282.00,197.42 283.00,197.51 284.00,197.60 285.00,197.70 286.00,197.79 287.00,197.89 288.00,198.00 289.00,198.11 290.00,198.22 291.00,198.33 292.00,198.45 293.00,198.57 294.00,198.69 295.00,198.82 296.00,198.94 297.00,199.07 298.00,199.20 299.00,199.33 300.00,199.46 301.00,199.59 302.00,199.72 303.00,199.85 304.00,199.98 305.00,200.11 306.00,200.24 307.00,200.36 308.00,200.49 309.00,200.61 310.00,200.73 311.00,200.85 312.00,200.97 313.00,201.08 314.00,201.19 315.00,201.30 316.00,201.40 317.00,201.50 318.00,201.60 319.00,201.69 320.00,201.78 321.00,201.87 322.00,201.96 323.00,202.05 324.00,202.14 325.00,202.22 326.00,202.31 327.00,202.39 328.00,202.48 329.00,202.56 330.00,202.64 331.00,202.72 332.00,202.80 333.00,202.88 334.00,202.96 335.00,203.04 336.00,203.11 337.00,203.18 338.00,203.26 339.00,203.33 340.00,203.40 341.00,203.47 342.00,203.54 343.00,203.60 344.00,203.67 345.00,203.73 346.00,203.79 347.00,203.85 348.00,203.91 349.00,203.97 349.50,204.00" fill="none" stroke="#903a98" stroke-width="1.4" stroke-linejoin="round" stroke-linecap="round"/>
<polyline points="52.00,139.30 53.00,139.77 54.00,140.24 55.00,140.71 56.00,141.19 57.00,141.66 58.00,142.14 59.00,142.63 60.00,143.12 61.00,143.61 62.00,144.10 63.00,144.59 64.00,145.07 65.00,145.54 66.00,145.99 67.00,146.44 68.00,146.87 69.00,147.30 70.00,147.72 71.00,148.12 72.00,148.51 73.00,148.90 74.00,149.28 75.00,149.65 76.00,150.01 77.00,150.35 78.00,150.67 79.00,150.96 80.00,151.25 81.00,151.54 82.00,151.82 83.00,152.06 84.00,152.24 85.00,152.33 86.00,152.38 87.00,152.42 88.00,152.46 89.00,152.49 90.00,152.51 91.00,152.53 92.00,152.53 93.00,152.50 94.00,152.41 95.00,152.28 96.00,152.12 97.00,151.94 98.00,151.67 99.00,151.29 100.00,150.86 101.00,150.47 102.00,150.15 103.00,149.84 104.00,149.53 105.00,149.20 106.00,148.94 107.00,148.68 108.00,148.41 109.00,148.08 110.00,147.65 111.00,147.02 112.00,146.20 113.00,145.28 114.00,144.34 115.00,143.45 116.00,142.54 117.00,141.61 118.00,140.67 119.00,139.72 120.00,138.78 121.00,137.87 122.00,136.97 123.00,136.03 124.00,135.04 125.00,133.96 126.00,132.78 127.00,131.49 128.00,130.05 129.00,128.39 130.00,126.34 131.00,123.86 132.00,121.16 133.00,118.16 134.00,114.94 135.00,111.98 136.00,109.13 137.00,106.31 138.00,103.55 139.00,100.89 140.00,98.34 141.00,95.93 142.00,93.68 143.00,91.59 144.00,89.49 145.00,87.44 146.00,85.49 147.00,83.73 148.00,82.22 149.00,81.03 150.00,80.18 151.00,79.40 152.00,78.71 153.00,78.18 154.00,77.86 155.00,77.81 156.00,78.02 157.00,78.43 158.00,78.99 159.00,79.63 160.00,80.59 161.00,82.04 162.00,83.77 163.00,85.58 164.00,87.28 165.00,89.00 166.00,90.87 167.00,92.97 168.00,95.40 169.00,98.12 170.00,101.07 171.00,104.35 172.00,107.96 173.00,111.57 174.00,115.23 175.00,118.88 176.00,122.34 177.00,125.50 178.00,128.48 179.00,131.35 180.00,134.21 181.00,137.11 182.00,139.98 183.00,142.81 184.00,145.60 185.00,148.36 186.00,151.15 187.00,153.87 188.00,156.40 189.00,158.67 190.00,160.68 191.00,162.54 192.00,164.32 193.00,166.06 194.00,167.75 195.00,169.40 196.00,170.99 197.00,172.53 198.00,174.03 199.00,175.48 200.00,176.88 201.00,178.27 202.00,179.62 203.00,180.92 204.00,182.19 205.00,183.41 206.00,184.59 207.00,185.73 208.00,186.83 209.00,187.88 210.00,188.88 211.00,189.81 212.00,190.68 213.00,191.45 214.00,192.11 215.00,192.67 216.00,193.11 217.00,193.45 218.00,193.70 219.00,193.87 220.00,193.99 221.00,194.08 222.00,194.14 223.00,194.18 224.00,194.23 225.00,194.26 226.00,194.30 227.00,194.34 228.00,194.38 229.00,194.42 230.00,194.46 231.00,194.50 232.00,194.55 233.00,194.59 234.00,194.64 235.00,194.68 236.00,194.73 237.00,194.77 238.00,194.82 239.00,194.87 240.00,194.92 241.00,194.97 242.00,195.02 243.00,195.07 244.00,195.12 245.00,195.17 246.00,195.23 247.00,195.28 248.00,195.34 249.00,195.39 250.00,195.45 251.00,195.50 252.00,195.56 253.00,195.62 254.00,195.68 255.00,195.74 256.00,195.80 257.00,195.86 258.00,195.93 259.00,195.99 260.00,196.06 261.00,196.13 262.00,196.20 263.00,196.27 264.00,196.34 265.00,196.41 266.00,196.49 267.00,196.56 268.00,196.64 269.00,196.72 270.00,196.80 271.00,196.88 272.00,196.96 273.00,197.04 274.00,197.12 275.00,197.21 276.00,197.29 277.00,197.38 278.00,197.46 279.00,197.55 280.00,197.64 281.00,197.73 282.00,197.82 283.00,197.91 284.00,198.00 285.00,198.10 286.00,198.20 287.00,198.30 288.00,198.40 289.00,198.51 290.00,198.63 291.00,198.74 292.00,198.86 293.00,198.98 294.00,199.10 295.00,199.22 296.00,199.35 297.00,199.47 298.00,199.60 299.00,199.73 300.00,199.86 301.00,199.99 302.00,200.12 303.00,200.25 304.00,200.38 305.00,200.51 306.00,200.63 307.00,200.76 308.00,200.88 309.00,201.01 310.00,201.13 311.00,201.25 312.00,201.36 313.00,201.48 314.00,201.59 315.00,201.69 316.00,201.80 317.00,201.90 318.00,202.00 319.00,202.09 320.00,202.19 321.00,202.28 322.00,202.37 323.00,202.46 324.00,202.55 325.00,202.64 326.00,202.73 327.00,202.82 328.00,202.90 329.00,202.99 330.00,203.07 331.00,203.16 332.00,203.24 333.00,203.32 334.00,203.40 335.00,203.48 336.00,203.56 337.00,203.64 338.00,203.71 339.00,203.79 340.00,203.86 341.00,203.93 342.00,204.00 343.00,204.07 344.00,204.14 345.00,204.21 346.00,204.28 347.00,204.34 348.00,204.41 349.00,204.47 349.50,204.50" fill="none" stroke="#ea28ea" stroke-width="1.4" stroke-linejoin="round" stroke-linecap="round"/>
<polyline points="52.00,165.20 53.00,165.56 54.00,165.92 55.00,166.28 56.00,166.65 57.00,167.01 58.00,167.37 59.00,167.75 60.00,168.12 61.00,168.50 62.00,168.88 63.00,169.25 64.00,169.62 65.00,169.98 66.00,170.32 67.00,170.66 68.00,171.00 69.00,171.32 70.00,171.64 71.00,171.95 72.00,172.25 73.00,172.54 74.00,172.83 75.00,173.12 76.00,173.40 77.00,173.66 78.00,173.90 79.00,174.12 80.00,174.34 81.00,174.57 82.00,174.78 83.00,174.96 84.00,175.10 85.00,175.17 86.00,175.21 87.00,175.24 88.00,175.27 89.00,175.29 90.00,175.31 91.00,175.32 92.00,175.32 93.00,175.30 94.00,175.23 95.00,175.13 96.00,175.01 97.00,174.88 98.00,174.67 99.00,174.37 100.00,174.05 101.00,173.75 102.00,173.50 103.00,173.26 104.00,173.03 105.00,172.77 106.00,172.56 107.00,172.34 108.00,172.12 109.00,171.85 110.00,171.54 111.00,171.09 112.00,170.53 113.00,169.91 114.00,169.28 115.00,168.68 116.00,168.07 117.00,167.44 118.00,166.81 119.00,166.17 120.00,165.54 121.00,164.92 122.00,164.31 123.00,163.68 124.00,163.02 125.00,162.30 126.00,161.52 127.00,160.68 128.00,159.74 129.00,158.67 130.00,157.36 131.00,155.79 132.00,154.08 133.00,152.19 134.00,150.17 135.00,148.31 136.00,146.51 137.00,144.73 138.00,142.99 139.00,141.30 140.00,139.69 141.00,138.16 142.00,136.73 143.00,135.40 144.00,134.06 145.00,132.74 146.00,131.50 147.00,130.37 148.00,129.39 149.00,128.60 150.00,128.02 151.00,127.49 152.00,127.01 153.00,126.62 154.00,126.37 155.00,126.28 156.00,126.35 157.00,126.55 158.00,126.86 159.00,127.22 160.00,127.90 161.00,128.86 162.00,129.96 163.00,131.02 164.00,132.05 165.00,133.16 166.00,134.42 167.00,135.89 168.00,137.58 169.00,139.42 170.00,141.50 171.00,143.79 172.00,146.07 173.00,148.39 174.00,150.67 175.00,152.77 176.00,154.70 177.00,156.52 178.00,158.31 179.00,160.12 180.00,161.92 181.00,163.70 182.00,165.45 183.00,167.17 184.00,168.92 185.00,170.61 186.00,172.16 187.00,173.52 188.00,174.73 189.00,175.85 190.00,176.92 191.00,177.96 192.00,178.98 193.00,179.96 194.00,180.91 195.00,181.81 196.00,182.69 197.00,183.53 198.00,184.35 199.00,185.13 200.00,185.88 201.00,186.62 202.00,187.34 203.00,188.02 204.00,188.68 205.00,189.30 206.00,189.89 207.00,190.44 208.00,190.94 209.00,191.39 210.00,191.79 211.00,192.13 212.00,192.42 213.00,192.66 214.00,192.87 215.00,193.04 216.00,193.19 217.00,193.32 218.00,193.42 219.00,193.50 220.00,193.56 221.00,193.62 222.00,193.66 223.00,193.70 224.00,193.74 225.00,193.78 226.00,193.82 227.00,193.86 228.00,193.90 229.00,193.94 230.00,193.98 231.00,194.02 232.00,194.07 233.00,194.11 234.00,194.16 235.00,194.20 236.00,194.25 237.00,194.29 238.00,194.34 239.00,194.39 240.00,194.43 241.00,194.48 242.00,194.53 243.00,194.58 244.00,194.63 245.00,194.68 246.00,194.74 247.00,194.79 248.00,194.84 249.00,194.89 250.00,194.95 251.00,195.00 252.00,195.06 253.00,195.11 254.00,195.17 255.00,195.22 256.00,195.28 257.00,195.34 258.00,195.40 259.00,195.46 260.00,195.52 261.00,195.58 262.00,195.65 263.00,195.71 264.00,195.78 265.00,195.84 266.00,195.91 267.00,195.98 268.00,196.05 269.00,196.12 270.00,196.19 271.00,196.26 272.00,196.34 273.00,196.41 274.00,196.49 275.00,196.56 276.00,196.64 277.00,196.72 278.00,196.80 279.00,196.88 280.00,196.96 281.00,197.04 282.00,197.13 283.00,197.22 284.00,197.30 285.00,197.39 286.00,197.49 287.00,197.59 288.00,197.69 289.00,197.80 290.00,197.91 291.00,198.03 292.00,198.15 293.00,198.27 294.00,198.39 295.00,198.52 296.00,198.64 297.00,198.77 298.00,198.90 299.00,199.04 300.00,199.17 301.00,199.30 302.00,199.43 303.00,199.56 304.00,199.70 305.00,199.83 306.00,199.96 307.00,200.08 308.00,200.21 309.00,200.33 310.00,200.45 311.00,200.57 312.00,200.69 313.00,200.80 314.00,200.91 315.00,201.01 316.00,201.11 317.00,201.21 318.00,201.30 319.00,201.39 320.00,201.47 321.00,201.56 322.00,201.64 323.00,201.73 324.00,201.81 325.00,201.89 326.00,201.97 327.00,202.05 328.00,202.13 329.00,202.21 330.00,202.28 331.00,202.36 332.00,202.43 333.00,202.50 334.00,202.58 335.00,202.65 336.00,202.71 337.00,202.78 338.00,202.85 339.00,202.91 340.00,202.98 341.00,203.04 342.00,203.10 343.00,203.16 344.00,203.21 345.00,203.27 346.00,203.32 347.00,203.38 348.00,203.43 349.00,203.47 349.50,203.50" fill="none" stroke="#8c30f6" stroke-width="1.4" stroke-linejoin="round" stroke-linecap="round"/>
<line x1="411.80" y1="13.33" x2="411.80" y2="223.85" stroke="#000" stroke-width="1.5"/>
<line x1="409.80" y1="223.10" x2="699.70" y2="223.10" stroke="#000" stroke-width="1.5"/>
<line x1="407.50" y1="208.34" x2="411.80" y2="208.34" stroke="#000" stroke-width="1.2"/>
<text x="405.30" y="212.34" font-size="11.6" text-anchor="end" >0.32</text>
<line x1="407.50" y1="178.40" x2="411.80" y2="178.40" stroke="#000" stroke-width="1.2"/>
<text x="405.30" y="182.40" font-size="11.6" text-anchor="end" >0.34</text>
<line x1="407.50" y1="148.46" x2="411.80" y2="148.46" stroke="#000" stroke-width="1.2"/>
<text x="405.30" y="152.46" font-size="11.6" text-anchor="end" >0.36</text>
<line x1="407.50" y1="118.52" x2="411.80" y2="118.52" stroke="#000" stroke-width="1.2"/>
<text x="405.30" y="122.52" font-size="11.6" text-anchor="end" >0.38</text>
<line x1="407.50" y1="88.58" x2="411.80" y2="88.58" stroke="#000" stroke-width="1.2"/>
<text x="405.30" y="92.58" font-size="11.6" text-anchor="end" >0.40</text>
<line x1="407.50" y1="58.64" x2="411.80" y2="58.64" stroke="#000" stroke-width="1.2"/>
<text x="405.30" y="62.64" font-size="11.6" text-anchor="end" >0.42</text>
<line x1="407.50" y1="28.70" x2="411.80" y2="28.70" stroke="#000" stroke-width="1.2"/>
<text x="405.30" y="32.70" font-size="11.6" text-anchor="end" >0.44</text>
<line x1="409.30" y1="193.37" x2="411.80" y2="193.37" stroke="#000" stroke-width="1.2"/>
<line x1="409.30" y1="163.43" x2="411.80" y2="163.43" stroke="#000" stroke-width="1.2"/>
<line x1="409.30" y1="133.49" x2="411.80" y2="133.49" stroke="#000" stroke-width="1.2"/>
<line x1="409.30" y1="103.55" x2="411.80" y2="103.55" stroke="#000" stroke-width="1.2"/>
<line x1="409.30" y1="73.61" x2="411.80" y2="73.61" stroke="#000" stroke-width="1.2"/>
<line x1="409.30" y1="43.67" x2="411.80" y2="43.67" stroke="#000" stroke-width="1.2"/>
<line x1="409.30" y1="13.73" x2="411.80" y2="13.73" stroke="#000" stroke-width="1.2"/>
<line x1="414.18" y1="223.10" x2="414.18" y2="226.10" stroke="#000" stroke-width="1.15"/>
<line x1="419.35" y1="223.10" x2="419.35" y2="226.10" stroke="#000" stroke-width="1.15"/>
<line x1="424.18" y1="223.10" x2="424.18" y2="226.10" stroke="#000" stroke-width="1.15"/>
<line x1="428.72" y1="223.10" x2="428.72" y2="226.10" stroke="#000" stroke-width="1.15"/>
<line x1="433.00" y1="223.10" x2="433.00" y2="226.90" stroke="#000" stroke-width="1.2"/>
<text x="433.00" y="238.00" font-size="11.6" text-anchor="middle" >1</text>
<line x1="440.89" y1="223.10" x2="440.89" y2="226.10" stroke="#000" stroke-width="1.15"/>
<line x1="448.03" y1="223.10" x2="448.03" y2="226.10" stroke="#000" stroke-width="1.15"/>
<line x1="454.54" y1="223.10" x2="454.54" y2="226.10" stroke="#000" stroke-width="1.15"/>
<line x1="460.53" y1="223.10" x2="460.53" y2="226.10" stroke="#000" stroke-width="1.15"/>
<line x1="466.08" y1="223.10" x2="466.08" y2="226.10" stroke="#000" stroke-width="1.15"/>
<line x1="471.25" y1="223.10" x2="471.25" y2="226.10" stroke="#000" stroke-width="1.15"/>
<line x1="476.08" y1="223.10" x2="476.08" y2="226.10" stroke="#000" stroke-width="1.15"/>
<line x1="480.62" y1="223.10" x2="480.62" y2="226.10" stroke="#000" stroke-width="1.15"/>
<line x1="484.90" y1="223.10" x2="484.90" y2="226.90" stroke="#000" stroke-width="1.2"/>
<text x="484.90" y="238.00" font-size="11.6" text-anchor="middle" >2</text>
<line x1="492.79" y1="223.10" x2="492.79" y2="226.10" stroke="#000" stroke-width="1.15"/>
<line x1="499.93" y1="223.10" x2="499.93" y2="226.10" stroke="#000" stroke-width="1.15"/>
<line x1="506.44" y1="223.10" x2="506.44" y2="226.10" stroke="#000" stroke-width="1.15"/>
<line x1="512.43" y1="223.10" x2="512.43" y2="226.10" stroke="#000" stroke-width="1.15"/>
<line x1="517.98" y1="223.10" x2="517.98" y2="226.10" stroke="#000" stroke-width="1.15"/>
<line x1="523.15" y1="223.10" x2="523.15" y2="226.10" stroke="#000" stroke-width="1.15"/>
<line x1="527.98" y1="223.10" x2="527.98" y2="226.10" stroke="#000" stroke-width="1.15"/>
<line x1="532.52" y1="223.10" x2="532.52" y2="226.10" stroke="#000" stroke-width="1.15"/>
<line x1="536.80" y1="223.10" x2="536.80" y2="226.90" stroke="#000" stroke-width="1.2"/>
<text x="536.80" y="238.00" font-size="11.6" text-anchor="middle" >4</text>
<line x1="544.69" y1="223.10" x2="544.69" y2="226.10" stroke="#000" stroke-width="1.15"/>
<line x1="551.83" y1="223.10" x2="551.83" y2="226.10" stroke="#000" stroke-width="1.15"/>
<line x1="558.34" y1="223.10" x2="558.34" y2="226.10" stroke="#000" stroke-width="1.15"/>
<line x1="564.33" y1="223.10" x2="564.33" y2="226.10" stroke="#000" stroke-width="1.15"/>
<line x1="569.88" y1="223.10" x2="569.88" y2="226.10" stroke="#000" stroke-width="1.15"/>
<line x1="575.05" y1="223.10" x2="575.05" y2="226.10" stroke="#000" stroke-width="1.15"/>
<line x1="579.88" y1="223.10" x2="579.88" y2="226.10" stroke="#000" stroke-width="1.15"/>
<line x1="584.42" y1="223.10" x2="584.42" y2="226.10" stroke="#000" stroke-width="1.15"/>
<line x1="588.70" y1="223.10" x2="588.70" y2="226.90" stroke="#000" stroke-width="1.2"/>
<text x="588.70" y="238.00" font-size="11.6" text-anchor="middle" >8</text>
<line x1="596.59" y1="223.10" x2="596.59" y2="226.10" stroke="#000" stroke-width="1.15"/>
<line x1="603.73" y1="223.10" x2="603.73" y2="226.10" stroke="#000" stroke-width="1.15"/>
<line x1="610.24" y1="223.10" x2="610.24" y2="226.10" stroke="#000" stroke-width="1.15"/>
<line x1="616.23" y1="223.10" x2="616.23" y2="226.10" stroke="#000" stroke-width="1.15"/>
<line x1="621.78" y1="223.10" x2="621.78" y2="226.10" stroke="#000" stroke-width="1.15"/>
<line x1="626.95" y1="223.10" x2="626.95" y2="226.10" stroke="#000" stroke-width="1.15"/>
<line x1="631.78" y1="223.10" x2="631.78" y2="226.10" stroke="#000" stroke-width="1.15"/>
<line x1="636.32" y1="223.10" x2="636.32" y2="226.10" stroke="#000" stroke-width="1.15"/>
<line x1="640.60" y1="223.10" x2="640.60" y2="226.90" stroke="#000" stroke-width="1.2"/>
<text x="640.60" y="238.00" font-size="11.6" text-anchor="middle" >16</text>
<line x1="648.49" y1="223.10" x2="648.49" y2="226.10" stroke="#000" stroke-width="1.15"/>
<line x1="655.63" y1="223.10" x2="655.63" y2="226.10" stroke="#000" stroke-width="1.15"/>
<line x1="662.14" y1="223.10" x2="662.14" y2="226.10" stroke="#000" stroke-width="1.15"/>
<line x1="668.13" y1="223.10" x2="668.13" y2="226.10" stroke="#000" stroke-width="1.15"/>
<line x1="673.68" y1="223.10" x2="673.68" y2="226.10" stroke="#000" stroke-width="1.15"/>
<line x1="678.85" y1="223.10" x2="678.85" y2="226.10" stroke="#000" stroke-width="1.15"/>
<line x1="683.68" y1="223.10" x2="683.68" y2="226.10" stroke="#000" stroke-width="1.15"/>
<line x1="688.22" y1="223.10" x2="688.22" y2="226.10" stroke="#000" stroke-width="1.15"/>
<line x1="692.50" y1="223.10" x2="692.50" y2="226.90" stroke="#000" stroke-width="1.2"/>
<text x="692.50" y="238.00" font-size="11.6" text-anchor="middle" >32</text>
<text x="555.30" y="254.20" font-size="12.95" text-anchor="middle" >Concerntration of Hg<tspan dy="-5" font-size="8.2">2+</tspan><tspan dy="5"> (ng/ml)</tspan></text>
<text transform="translate(375.5,126.2) rotate(-90) scale(1,1.08)" font-size="12" text-anchor="middle">OD 520nm</text>
<text x="359.80" y="33.00" font-size="38.5" text-anchor="start" transform="translate(359.8 0) scale(1.07 1) translate(-359.8 0)">b</text>
<text x="557.00" y="69.20" font-size="13.0" text-anchor="start" >y=-0.02257x+0.43324</text>
<text x="557.00" y="84.60" font-size="13.0" text-anchor="start" >R<tspan dy="-5" font-size="7.4">2</tspan><tspan dy="5">=0.996</tspan></text>
<line x1="433.00" y1="32.60" x2="433.00" y2="46.10" stroke="#000" stroke-width="1.6"/>
<line x1="430.30" y1="32.60" x2="435.70" y2="32.60" stroke="#000" stroke-width="1.6"/>
<line x1="430.30" y1="46.10" x2="435.70" y2="46.10" stroke="#000" stroke-width="1.6"/>
<rect x="430.80" y="37.10" width="4.4" height="4.4" fill="#000"/>
<line x1="484.90" y1="55.10" x2="484.90" y2="76.90" stroke="#000" stroke-width="1.6"/>
<line x1="482.20" y1="55.10" x2="487.60" y2="55.10" stroke="#000" stroke-width="1.6"/>
<line x1="482.20" y1="76.90" x2="487.60" y2="76.90" stroke="#000" stroke-width="1.6"/>
<rect x="482.70" y="63.40" width="4.4" height="4.4" fill="#000"/>
<line x1="536.80" y1="97.70" x2="536.80" y2="115.10" stroke="#000" stroke-width="1.6"/>
<line x1="534.10" y1="97.70" x2="539.50" y2="97.70" stroke="#000" stroke-width="1.6"/>
<line x1="534.10" y1="115.10" x2="539.50" y2="115.10" stroke="#000" stroke-width="1.6"/>
<rect x="534.60" y="104.40" width="4.4" height="4.4" fill="#000"/>
<line x1="588.70" y1="133.10" x2="588.70" y2="148.10" stroke="#000" stroke-width="1.6"/>
<line x1="586.00" y1="133.10" x2="591.40" y2="133.10" stroke="#000" stroke-width="1.6"/>
<line x1="586.00" y1="148.10" x2="591.40" y2="148.10" stroke="#000" stroke-width="1.6"/>
<rect x="586.50" y="138.40" width="4.4" height="4.4" fill="#000"/>
<line x1="640.60" y1="173.20" x2="640.60" y2="188.40" stroke="#000" stroke-width="1.6"/>
<line x1="637.90" y1="173.20" x2="643.30" y2="173.20" stroke="#000" stroke-width="1.6"/>
<line x1="637.90" y1="188.40" x2="643.30" y2="188.40" stroke="#000" stroke-width="1.6"/>
<rect x="638.40" y="178.40" width="4.4" height="4.4" fill="#000"/>
<line x1="692.50" y1="186.20" x2="692.50" y2="207.20" stroke="#000" stroke-width="1.6"/>
<line x1="689.80" y1="186.20" x2="695.20" y2="186.20" stroke="#000" stroke-width="1.6"/>
<line x1="689.80" y1="207.20" x2="695.20" y2="207.20" stroke="#000" stroke-width="1.6"/>
<rect x="690.30" y="194.70" width="4.4" height="4.4" fill="#000"/>
<line x1="433.00" y1="38.80" x2="692.50" y2="207.80" stroke="#dc1c1c" stroke-width="1.4"/>
<line x1="49.00" y1="273.78" x2="49.00" y2="475.80" stroke="#000" stroke-width="1.5"/>
<line x1="51.30" y1="475.20" x2="359.20" y2="475.20" stroke="#000" stroke-width="1.5"/>
<line x1="44.40" y1="475.10" x2="49.00" y2="475.10" stroke="#000" stroke-width="1.2"/>
<text x="42.60" y="479.40" font-size="12.5" text-anchor="end" >90</text>
<line x1="44.40" y1="448.31" x2="49.00" y2="448.31" stroke="#000" stroke-width="1.2"/>
<text x="42.60" y="452.61" font-size="12.5" text-anchor="end" >100</text>
<line x1="44.40" y1="421.52" x2="49.00" y2="421.52" stroke="#000" stroke-width="1.2"/>
<text x="42.60" y="425.82" font-size="12.5" text-anchor="end" >110</text>
<line x1="44.40" y1="394.73" x2="49.00" y2="394.73" stroke="#000" stroke-width="1.2"/>
<text x="42.60" y="399.03" font-size="12.5" text-anchor="end" >120</text>
<line x1="44.40" y1="367.94" x2="49.00" y2="367.94" stroke="#000" stroke-width="1.2"/>
<text x="42.60" y="372.24" font-size="12.5" text-anchor="end" >130</text>
<line x1="44.40" y1="341.15" x2="49.00" y2="341.15" stroke="#000" stroke-width="1.2"/>
<text x="42.60" y="345.45" font-size="12.5" text-anchor="end" >140</text>
<line x1="44.40" y1="314.36" x2="49.00" y2="314.36" stroke="#000" stroke-width="1.2"/>
<text x="42.60" y="318.66" font-size="12.5" text-anchor="end" >150</text>
<line x1="44.40" y1="287.57" x2="49.00" y2="287.57" stroke="#000" stroke-width="1.2"/>
<text x="42.60" y="291.87" font-size="12.5" text-anchor="end" >160</text>
<line x1="46.40" y1="461.71" x2="49.00" y2="461.71" stroke="#000" stroke-width="1.2"/>
<line x1="46.40" y1="434.92" x2="49.00" y2="434.92" stroke="#000" stroke-width="1.2"/>
<line x1="46.40" y1="408.12" x2="49.00" y2="408.12" stroke="#000" stroke-width="1.2"/>
<line x1="46.40" y1="381.34" x2="49.00" y2="381.34" stroke="#000" stroke-width="1.2"/>
<line x1="46.40" y1="354.55" x2="49.00" y2="354.55" stroke="#000" stroke-width="1.2"/>
<line x1="46.40" y1="327.75" x2="49.00" y2="327.75" stroke="#000" stroke-width="1.2"/>
<line x1="46.40" y1="300.97" x2="49.00" y2="300.97" stroke="#000" stroke-width="1.2"/>
<line x1="46.40" y1="274.18" x2="49.00" y2="274.18" stroke="#000" stroke-width="1.2"/>
<line x1="63.10" y1="475.20" x2="63.10" y2="479.20" stroke="#000" stroke-width="1.2"/>
<text x="63.10" y="491.00" font-size="12.5" text-anchor="middle" >0</text>
<line x1="85.80" y1="475.20" x2="85.80" y2="477.70" stroke="#000" stroke-width="1.2"/>
<line x1="108.50" y1="475.20" x2="108.50" y2="479.20" stroke="#000" stroke-width="1.2"/>
<text x="108.50" y="491.00" font-size="12.5" text-anchor="middle" >20</text>
<line x1="131.20" y1="475.20" x2="131.20" y2="477.70" stroke="#000" stroke-width="1.2"/>
<line x1="153.90" y1="475.20" x2="153.90" y2="479.20" stroke="#000" stroke-width="1.2"/>
<text x="153.90" y="491.00" font-size="12.5" text-anchor="middle" >40</text>
<line x1="176.60" y1="475.20" x2="176.60" y2="477.70" stroke="#000" stroke-width="1.2"/>
<line x1="199.30" y1="475.20" x2="199.30" y2="479.20" stroke="#000" stroke-width="1.2"/>
<text x="199.30" y="491.00" font-size="12.5" text-anchor="middle" >60</text>
<line x1="222.00" y1="475.20" x2="222.00" y2="477.70" stroke="#000" stroke-width="1.2"/>
<line x1="244.70" y1="475.20" x2="244.70" y2="479.20" stroke="#000" stroke-width="1.2"/>
<text x="244.70" y="491.00" font-size="12.5" text-anchor="middle" >80</text>
<line x1="267.40" y1="475.20" x2="267.40" y2="477.70" stroke="#000" stroke-width="1.2"/>
<line x1="290.10" y1="475.20" x2="290.10" y2="479.20" stroke="#000" stroke-width="1.2"/>
<text x="290.10" y="491.00" font-size="12.5" text-anchor="middle" >100</text>
<line x1="312.80" y1="475.20" x2="312.80" y2="477.70" stroke="#000" stroke-width="1.2"/>
<line x1="335.50" y1="475.20" x2="335.50" y2="479.20" stroke="#000" stroke-width="1.2"/>
<text x="335.50" y="491.00" font-size="12.5" text-anchor="middle" >120</text>
<line x1="358.20" y1="475.20" x2="358.20" y2="477.70" stroke="#000" stroke-width="1.2"/>
<text x="204.60" y="504.80" font-size="13.4" text-anchor="middle" >Concentration of Hg<tspan dy="-5" font-size="8.4">2+</tspan><tspan dy="5"> (ng/mL)</tspan></text>
<text transform="translate(16.9,376.5) rotate(-90) scale(1,1.08)" font-size="12.2" text-anchor="middle">Transmitted Light Intensity (lux)</text>
<text x="7.20" y="284.60" font-size="38.5" text-anchor="start" font-weight="bold" transform="translate(7.2 0) scale(1.06 1) translate(-7.2 0)">c</text>
<polyline points="63.10,447.77 64.23,442.68 65.37,432.24 67.64,416.70 72.18,393.39 81.26,377.32 99.42,356.42 135.74,330.43 208.38,314.36 353.66,301.23" fill="none" stroke="#ee1111" stroke-width="1.3" stroke-linejoin="round" stroke-linecap="round"/>
<line x1="63.10" y1="443.97" x2="63.10" y2="451.57" stroke="#10107e" stroke-width="1.5"/>
<line x1="60.30" y1="443.97" x2="65.90" y2="443.97" stroke="#10107e" stroke-width="1.5"/>
<line x1="60.30" y1="451.57" x2="65.90" y2="451.57" stroke="#10107e" stroke-width="1.5"/>
<rect x="61.10" y="445.77" width="4.0" height="4.0" fill="#e81818"/>
<line x1="64.23" y1="440.08" x2="64.23" y2="445.28" stroke="#10107e" stroke-width="1.5"/>
<line x1="61.44" y1="440.08" x2="67.03" y2="440.08" stroke="#10107e" stroke-width="1.5"/>
<line x1="61.44" y1="445.28" x2="67.03" y2="445.28" stroke="#10107e" stroke-width="1.5"/>
<rect x="62.23" y="440.68" width="4.0" height="4.0" fill="#e81818"/>
<line x1="65.37" y1="427.64" x2="65.37" y2="436.84" stroke="#10107e" stroke-width="1.5"/>
<line x1="62.57" y1="427.64" x2="68.17" y2="427.64" stroke="#10107e" stroke-width="1.5"/>
<line x1="62.57" y1="436.84" x2="68.17" y2="436.84" stroke="#10107e" stroke-width="1.5"/>
<rect x="63.37" y="430.24" width="4.0" height="4.0" fill="#e81818"/>
<line x1="67.64" y1="413.20" x2="67.64" y2="420.20" stroke="#10107e" stroke-width="1.5"/>
<line x1="64.84" y1="413.20" x2="70.44" y2="413.20" stroke="#10107e" stroke-width="1.5"/>
<line x1="64.84" y1="420.20" x2="70.44" y2="420.20" stroke="#10107e" stroke-width="1.5"/>
<rect x="65.64" y="414.70" width="4.0" height="4.0" fill="#e81818"/>
<line x1="72.18" y1="386.99" x2="72.18" y2="399.79" stroke="#10107e" stroke-width="1.5"/>
<line x1="69.38" y1="386.99" x2="74.98" y2="386.99" stroke="#10107e" stroke-width="1.5"/>
<line x1="69.38" y1="399.79" x2="74.98" y2="399.79" stroke="#10107e" stroke-width="1.5"/>
<rect x="70.18" y="391.39" width="4.0" height="4.0" fill="#e81818"/>
<line x1="81.26" y1="370.32" x2="81.26" y2="384.32" stroke="#10107e" stroke-width="1.5"/>
<line x1="78.46" y1="370.32" x2="84.06" y2="370.32" stroke="#10107e" stroke-width="1.5"/>
<line x1="78.46" y1="384.32" x2="84.06" y2="384.32" stroke="#10107e" stroke-width="1.5"/>
<rect x="79.26" y="375.32" width="4.0" height="4.0" fill="#e81818"/>
<line x1="99.42" y1="351.72" x2="99.42" y2="361.12" stroke="#10107e" stroke-width="1.5"/>
<line x1="96.62" y1="351.72" x2="102.22" y2="351.72" stroke="#10107e" stroke-width="1.5"/>
<line x1="96.62" y1="361.12" x2="102.22" y2="361.12" stroke="#10107e" stroke-width="1.5"/>
<rect x="97.42" y="354.42" width="4.0" height="4.0" fill="#e81818"/>
<line x1="135.74" y1="324.43" x2="135.74" y2="336.43" stroke="#10107e" stroke-width="1.5"/>
<line x1="132.94" y1="324.43" x2="138.54" y2="324.43" stroke="#10107e" stroke-width="1.5"/>
<line x1="132.94" y1="336.43" x2="138.54" y2="336.43" stroke="#10107e" stroke-width="1.5"/>
<rect x="133.74" y="328.43" width="4.0" height="4.0" fill="#e81818"/>
<line x1="208.38" y1="306.96" x2="208.38" y2="321.76" stroke="#10107e" stroke-width="1.5"/>
<line x1="205.58" y1="306.96" x2="211.18" y2="306.96" stroke="#10107e" stroke-width="1.5"/>
<line x1="205.58" y1="321.76" x2="211.18" y2="321.76" stroke="#10107e" stroke-width="1.5"/>
<rect x="206.38" y="312.36" width="4.0" height="4.0" fill="#e81818"/>
<line x1="353.66" y1="294.83" x2="353.66" y2="307.63" stroke="#10107e" stroke-width="1.5"/>
<line x1="350.86" y1="294.83" x2="356.46" y2="294.83" stroke="#10107e" stroke-width="1.5"/>
<line x1="350.86" y1="307.63" x2="356.46" y2="307.63" stroke="#10107e" stroke-width="1.5"/>
<rect x="351.66" y="299.23" width="4.0" height="4.0" fill="#e81818"/>
<line x1="415.10" y1="278.50" x2="415.10" y2="476.85" stroke="#000" stroke-width="1.5"/>
<line x1="411.50" y1="476.10" x2="709.90" y2="476.10" stroke="#000" stroke-width="1.5"/>
<line x1="410.60" y1="475.90" x2="415.10" y2="475.90" stroke="#000" stroke-width="1.2"/>
<text x="409.40" y="479.90" font-size="11.6" text-anchor="end" >100</text>
<line x1="410.60" y1="436.50" x2="415.10" y2="436.50" stroke="#000" stroke-width="1.2"/>
<text x="409.40" y="440.50" font-size="11.6" text-anchor="end" >110</text>
<line x1="410.60" y1="397.10" x2="415.10" y2="397.10" stroke="#000" stroke-width="1.2"/>
<text x="409.40" y="401.10" font-size="11.6" text-anchor="end" >120</text>
<line x1="410.60" y1="357.70" x2="415.10" y2="357.70" stroke="#000" stroke-width="1.2"/>
<text x="409.40" y="361.70" font-size="11.6" text-anchor="end" >130</text>
<line x1="410.60" y1="318.30" x2="415.10" y2="318.30" stroke="#000" stroke-width="1.2"/>
<text x="409.40" y="322.30" font-size="11.6" text-anchor="end" >140</text>
<line x1="410.60" y1="278.90" x2="415.10" y2="278.90" stroke="#000" stroke-width="1.2"/>
<text x="409.40" y="282.90" font-size="11.6" text-anchor="end" >150</text>
<line x1="412.60" y1="456.20" x2="415.10" y2="456.20" stroke="#000" stroke-width="1.2"/>
<line x1="412.60" y1="416.80" x2="415.10" y2="416.80" stroke="#000" stroke-width="1.2"/>
<line x1="412.60" y1="377.40" x2="415.10" y2="377.40" stroke="#000" stroke-width="1.2"/>
<line x1="412.60" y1="338.00" x2="415.10" y2="338.00" stroke="#000" stroke-width="1.2"/>
<line x1="412.60" y1="298.60" x2="415.10" y2="298.60" stroke="#000" stroke-width="1.2"/>
<line x1="417.69" y1="476.10" x2="417.69" y2="479.10" stroke="#000" stroke-width="1.15"/>
<line x1="423.27" y1="476.10" x2="423.27" y2="479.10" stroke="#000" stroke-width="1.15"/>
<line x1="428.47" y1="476.10" x2="428.47" y2="479.10" stroke="#000" stroke-width="1.15"/>
<line x1="433.33" y1="476.10" x2="433.33" y2="479.10" stroke="#000" stroke-width="1.15"/>
<line x1="437.90" y1="476.10" x2="437.90" y2="479.10" stroke="#000" stroke-width="1.15"/>
<line x1="442.20" y1="476.10" x2="442.20" y2="479.90" stroke="#000" stroke-width="1.2"/>
<text x="442.20" y="491.00" font-size="11.6" text-anchor="middle" >1</text>
<line x1="450.13" y1="476.10" x2="450.13" y2="479.10" stroke="#000" stroke-width="1.15"/>
<line x1="457.31" y1="476.10" x2="457.31" y2="479.10" stroke="#000" stroke-width="1.15"/>
<line x1="463.86" y1="476.10" x2="463.86" y2="479.10" stroke="#000" stroke-width="1.15"/>
<line x1="469.89" y1="476.10" x2="469.89" y2="479.10" stroke="#000" stroke-width="1.15"/>
<line x1="475.47" y1="476.10" x2="475.47" y2="479.10" stroke="#000" stroke-width="1.15"/>
<line x1="480.67" y1="476.10" x2="480.67" y2="479.10" stroke="#000" stroke-width="1.15"/>
<line x1="485.53" y1="476.10" x2="485.53" y2="479.10" stroke="#000" stroke-width="1.15"/>
<line x1="490.10" y1="476.10" x2="490.10" y2="479.10" stroke="#000" stroke-width="1.15"/>
<line x1="494.40" y1="476.10" x2="494.40" y2="479.90" stroke="#000" stroke-width="1.2"/>
<text x="494.40" y="491.00" font-size="11.6" text-anchor="middle" >2</text>
<line x1="502.33" y1="476.10" x2="502.33" y2="479.10" stroke="#000" stroke-width="1.15"/>
<line x1="509.51" y1="476.10" x2="509.51" y2="479.10" stroke="#000" stroke-width="1.15"/>
<line x1="516.06" y1="476.10" x2="516.06" y2="479.10" stroke="#000" stroke-width="1.15"/>
<line x1="522.09" y1="476.10" x2="522.09" y2="479.10" stroke="#000" stroke-width="1.15"/>
<line x1="527.67" y1="476.10" x2="527.67" y2="479.10" stroke="#000" stroke-width="1.15"/>
<line x1="532.87" y1="476.10" x2="532.87" y2="479.10" stroke="#000" stroke-width="1.15"/>
<line x1="537.73" y1="476.10" x2="537.73" y2="479.10" stroke="#000" stroke-width="1.15"/>
<line x1="542.30" y1="476.10" x2="542.30" y2="479.10" stroke="#000" stroke-width="1.15"/>
<line x1="546.60" y1="476.10" x2="546.60" y2="479.90" stroke="#000" stroke-width="1.2"/>
<text x="546.60" y="491.00" font-size="11.6" text-anchor="middle" >4</text>
<line x1="554.53" y1="476.10" x2="554.53" y2="479.10" stroke="#000" stroke-width="1.15"/>
<line x1="561.71" y1="476.10" x2="561.71" y2="479.10" stroke="#000" stroke-width="1.15"/>
<line x1="568.26" y1="476.10" x2="568.26" y2="479.10" stroke="#000" stroke-width="1.15"/>
<line x1="574.29" y1="476.10" x2="574.29" y2="479.10" stroke="#000" stroke-width="1.15"/>
<line x1="579.87" y1="476.10" x2="579.87" y2="479.10" stroke="#000" stroke-width="1.15"/>
<line x1="585.07" y1="476.10" x2="585.07" y2="479.10" stroke="#000" stroke-width="1.15"/>
<line x1="589.93" y1="476.10" x2="589.93" y2="479.10" stroke="#000" stroke-width="1.15"/>
<line x1="594.50" y1="476.10" x2="594.50" y2="479.10" stroke="#000" stroke-width="1.15"/>
<line x1="598.80" y1="476.10" x2="598.80" y2="479.90" stroke="#000" stroke-width="1.2"/>
<text x="598.80" y="491.00" font-size="11.6" text-anchor="middle" >8</text>
<line x1="606.73" y1="476.10" x2="606.73" y2="479.10" stroke="#000" stroke-width="1.15"/>
<line x1="613.91" y1="476.10" x2="613.91" y2="479.10" stroke="#000" stroke-width="1.15"/>
<line x1="620.46" y1="476.10" x2="620.46" y2="479.10" stroke="#000" stroke-width="1.15"/>
<line x1="626.49" y1="476.10" x2="626.49" y2="479.10" stroke="#000" stroke-width="1.15"/>
<line x1="632.07" y1="476.10" x2="632.07" y2="479.10" stroke="#000" stroke-width="1.15"/>
<line x1="637.27" y1="476.10" x2="637.27" y2="479.10" stroke="#000" stroke-width="1.15"/>
<line x1="642.13" y1="476.10" x2="642.13" y2="479.10" stroke="#000" stroke-width="1.15"/>
<line x1="646.70" y1="476.10" x2="646.70" y2="479.10" stroke="#000" stroke-width="1.15"/>
<line x1="651.00" y1="476.10" x2="651.00" y2="479.90" stroke="#000" stroke-width="1.2"/>
<text x="651.00" y="491.00" font-size="11.6" text-anchor="middle" >16</text>
<line x1="658.93" y1="476.10" x2="658.93" y2="479.10" stroke="#000" stroke-width="1.15"/>
<line x1="666.11" y1="476.10" x2="666.11" y2="479.10" stroke="#000" stroke-width="1.15"/>
<line x1="672.66" y1="476.10" x2="672.66" y2="479.10" stroke="#000" stroke-width="1.15"/>
<line x1="678.69" y1="476.10" x2="678.69" y2="479.10" stroke="#000" stroke-width="1.15"/>
<line x1="684.27" y1="476.10" x2="684.27" y2="479.10" stroke="#000" stroke-width="1.15"/>
<line x1="689.47" y1="476.10" x2="689.47" y2="479.10" stroke="#000" stroke-width="1.15"/>
<line x1="694.33" y1="476.10" x2="694.33" y2="479.10" stroke="#000" stroke-width="1.15"/>
<line x1="698.90" y1="476.10" x2="698.90" y2="479.10" stroke="#000" stroke-width="1.15"/>
<line x1="703.20" y1="476.10" x2="703.20" y2="479.90" stroke="#000" stroke-width="1.2"/>
<text x="703.20" y="491.00" font-size="11.6" text-anchor="middle" >32</text>
<text x="563.00" y="507.20" font-size="12.5" text-anchor="middle" >Concentration of Hg<tspan dy="-5" font-size="8">2+</tspan><tspan dy="5"> (ng/mL)</tspan></text>
<text transform="translate(386.4,377.3) rotate(-90) scale(1,1.04)" font-size="12.35" text-anchor="middle">Transmitted Light Intensity (lux)</text>
<text x="360.70" y="284.60" font-size="38.3" text-anchor="start" transform="translate(360.7 0) scale(1.1 1) translate(-360.7 0)">d</text>
<text x="471.30" y="324.80" font-size="12.5" text-anchor="start" >y=7.62x+104.7</text>
<text x="471.30" y="341.50" font-size="12.5" text-anchor="start" >R<tspan dy="-5" font-size="7.4">2</tspan><tspan dy="5">=0.991</tspan></text>
<line x1="442.20" y1="444.40" x2="442.20" y2="461.00" stroke="#000" stroke-width="1.6"/>
<line x1="439.60" y1="444.40" x2="444.80" y2="444.40" stroke="#000" stroke-width="1.6"/>
<line x1="439.60" y1="461.00" x2="444.80" y2="461.00" stroke="#000" stroke-width="1.6"/>
<rect x="440.00" y="450.60" width="4.4" height="4.4" fill="#000"/>
<line x1="494.40" y1="424.70" x2="494.40" y2="433.60" stroke="#000" stroke-width="1.6"/>
<line x1="491.80" y1="424.70" x2="497.00" y2="424.70" stroke="#000" stroke-width="1.6"/>
<line x1="491.80" y1="433.60" x2="497.00" y2="433.60" stroke="#000" stroke-width="1.6"/>
<rect x="492.20" y="426.80" width="4.4" height="4.4" fill="#000"/>
<line x1="546.60" y1="384.70" x2="546.60" y2="404.30" stroke="#000" stroke-width="1.6"/>
<line x1="544.00" y1="384.70" x2="549.20" y2="384.70" stroke="#000" stroke-width="1.6"/>
<line x1="544.00" y1="404.30" x2="549.20" y2="404.30" stroke="#000" stroke-width="1.6"/>
<rect x="544.40" y="392.00" width="4.4" height="4.4" fill="#000"/>
<line x1="598.80" y1="361.10" x2="598.80" y2="382.00" stroke="#000" stroke-width="1.6"/>
<line x1="596.20" y1="361.10" x2="601.40" y2="361.10" stroke="#000" stroke-width="1.6"/>
<line x1="596.20" y1="382.00" x2="601.40" y2="382.00" stroke="#000" stroke-width="1.6"/>
<rect x="596.60" y="368.90" width="4.4" height="4.4" fill="#000"/>
<line x1="651.00" y1="333.60" x2="651.00" y2="347.80" stroke="#000" stroke-width="1.6"/>
<line x1="648.40" y1="333.60" x2="653.60" y2="333.60" stroke="#000" stroke-width="1.6"/>
<line x1="648.40" y1="347.80" x2="653.60" y2="347.80" stroke="#000" stroke-width="1.6"/>
<rect x="648.80" y="338.70" width="4.4" height="4.4" fill="#000"/>
<line x1="703.20" y1="293.20" x2="703.20" y2="310.60" stroke="#000" stroke-width="1.6"/>
<line x1="700.60" y1="293.20" x2="705.80" y2="293.20" stroke="#000" stroke-width="1.6"/>
<line x1="700.60" y1="310.60" x2="705.80" y2="310.60" stroke="#000" stroke-width="1.6"/>
<rect x="701.00" y="299.50" width="4.4" height="4.4" fill="#000"/>
<line x1="442.20" y1="457.38" x2="703.20" y2="307.27" stroke="#dc1c1c" stroke-width="1.4"/>
</svg>
</body></html>
